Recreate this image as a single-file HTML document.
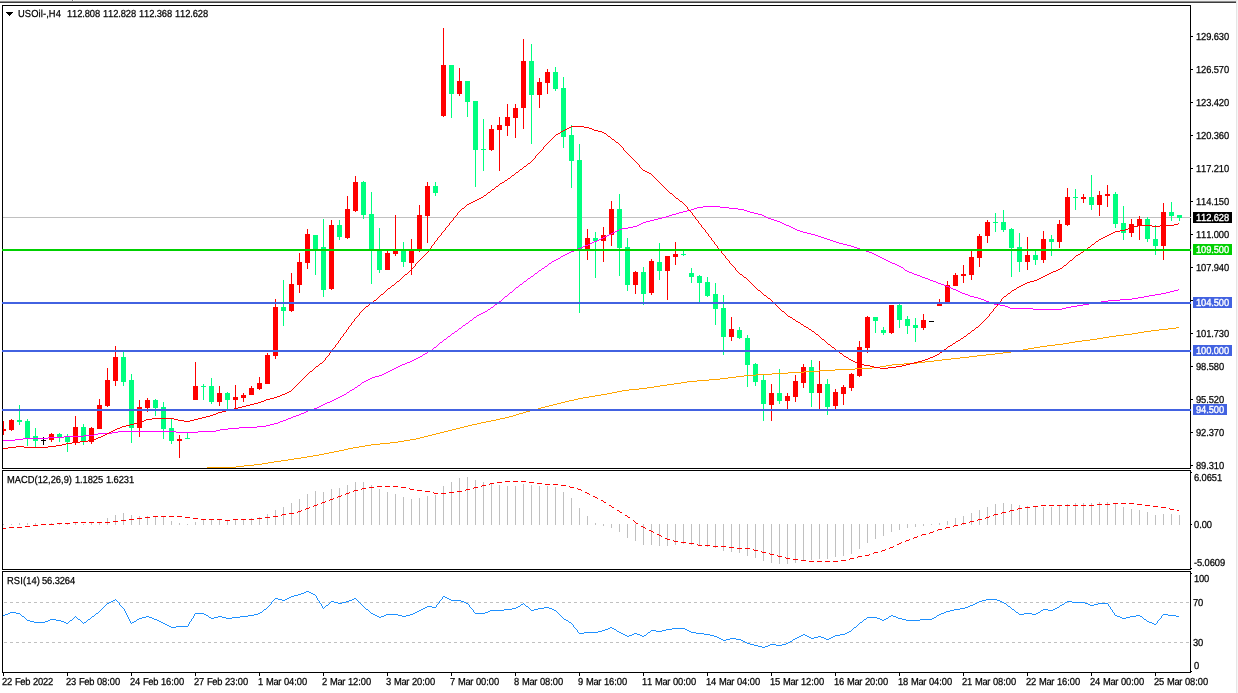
<!DOCTYPE html>
<html><head><meta charset="utf-8"><title>USOil H4</title>
<style>
html,body{margin:0;padding:0;background:#fff;}
body{width:1238px;height:693px;position:relative;overflow:hidden;font-family:"Liberation Sans",sans-serif;}
svg{position:absolute;left:0;top:0;}
#labels{position:absolute;left:0;top:0;width:1238px;height:693px;will-change:transform;transform:translateZ(0);}
.l{position:absolute;left:0;top:0;width:0;height:0;font-size:1px;line-height:1px;}
.t{position:absolute;display:block;font-size:10.17px;line-height:12px;height:12px;white-space:nowrap;font-kerning:none;font-variant-ligatures:none;text-rendering:geometricPrecision;color:#000;transform:scaleX(0.92);transform-origin:0 0;-webkit-text-stroke:0.25px currentColor;}
</style></head><body>
<svg width="1238" height="693" viewBox="0 0 1238 693" shape-rendering="crispEdges">
<rect x="0" y="0" width="1238" height="1" fill="#efefef"/>
<rect x="0" y="1" width="1236" height="1" fill="#8e8e8e"/>
<rect x="0" y="2" width="1236" height="1" fill="#3c3c3c"/>
<rect x="1236" y="0" width="1" height="693" fill="#e6e6e6"/>
<rect x="1237" y="0" width="1" height="693" fill="#f6f6f6"/>
<rect x="72" y="0" width="1" height="1" fill="#7c7c7c"/>
<rect x="73" y="0" width="1" height="1" fill="#ffffff"/>
<rect x="3" y="217" width="1187" height="1" fill="#c0c0c0"/>
<path d="M4 602.5H1190" stroke="#c0c0c0" stroke-width="1" stroke-dasharray="3 3" fill="none"/>
<path d="M4 642.5H1190" stroke="#c0c0c0" stroke-width="1" stroke-dasharray="3 3" fill="none"/>
<rect x="107" y="518" width="1" height="7" fill="#c0c0c0"/>
<rect x="115" y="515" width="1" height="10" fill="#c0c0c0"/>
<rect x="123" y="513" width="1" height="12" fill="#c0c0c0"/>
<rect x="131" y="515" width="1" height="10" fill="#c0c0c0"/>
<rect x="139" y="516" width="1" height="9" fill="#c0c0c0"/>
<rect x="147" y="516" width="1" height="9" fill="#c0c0c0"/>
<rect x="155" y="516" width="1" height="9" fill="#c0c0c0"/>
<rect x="163" y="517" width="1" height="8" fill="#c0c0c0"/>
<rect x="171" y="521" width="1" height="4" fill="#c0c0c0"/>
<rect x="179" y="523" width="1" height="2" fill="#c0c0c0"/>
<rect x="187" y="524" width="1" height="1" fill="#c0c0c0"/>
<rect x="195" y="522" width="1" height="3" fill="#c0c0c0"/>
<rect x="203" y="520" width="1" height="5" fill="#c0c0c0"/>
<rect x="211" y="519" width="1" height="6" fill="#c0c0c0"/>
<rect x="219" y="520" width="1" height="5" fill="#c0c0c0"/>
<rect x="227" y="520" width="1" height="5" fill="#c0c0c0"/>
<rect x="235" y="520" width="1" height="5" fill="#c0c0c0"/>
<rect x="243" y="519" width="1" height="6" fill="#c0c0c0"/>
<rect x="251" y="518" width="1" height="7" fill="#c0c0c0"/>
<rect x="259" y="517" width="1" height="8" fill="#c0c0c0"/>
<rect x="267" y="514" width="1" height="11" fill="#c0c0c0"/>
<rect x="275" y="510" width="1" height="15" fill="#c0c0c0"/>
<rect x="283" y="507" width="1" height="18" fill="#c0c0c0"/>
<rect x="291" y="503" width="1" height="22" fill="#c0c0c0"/>
<rect x="299" y="499" width="1" height="26" fill="#c0c0c0"/>
<rect x="307" y="494" width="1" height="31" fill="#c0c0c0"/>
<rect x="315" y="491" width="1" height="34" fill="#c0c0c0"/>
<rect x="323" y="492" width="1" height="33" fill="#c0c0c0"/>
<rect x="331" y="489" width="1" height="36" fill="#c0c0c0"/>
<rect x="339" y="488" width="1" height="37" fill="#c0c0c0"/>
<rect x="347" y="485" width="1" height="40" fill="#c0c0c0"/>
<rect x="355" y="482" width="1" height="43" fill="#c0c0c0"/>
<rect x="363" y="482" width="1" height="43" fill="#c0c0c0"/>
<rect x="371" y="485" width="1" height="40" fill="#c0c0c0"/>
<rect x="379" y="489" width="1" height="36" fill="#c0c0c0"/>
<rect x="387" y="492" width="1" height="33" fill="#c0c0c0"/>
<rect x="395" y="494" width="1" height="31" fill="#c0c0c0"/>
<rect x="403" y="497" width="1" height="28" fill="#c0c0c0"/>
<rect x="411" y="499" width="1" height="26" fill="#c0c0c0"/>
<rect x="419" y="498" width="1" height="27" fill="#c0c0c0"/>
<rect x="427" y="496" width="1" height="29" fill="#c0c0c0"/>
<rect x="435" y="495" width="1" height="30" fill="#c0c0c0"/>
<rect x="443" y="486" width="1" height="39" fill="#c0c0c0"/>
<rect x="451" y="482" width="1" height="43" fill="#c0c0c0"/>
<rect x="459" y="478" width="1" height="47" fill="#c0c0c0"/>
<rect x="467" y="477" width="1" height="48" fill="#c0c0c0"/>
<rect x="475" y="480" width="1" height="45" fill="#c0c0c0"/>
<rect x="483" y="482" width="1" height="43" fill="#c0c0c0"/>
<rect x="491" y="484" width="1" height="41" fill="#c0c0c0"/>
<rect x="499" y="485" width="1" height="40" fill="#c0c0c0"/>
<rect x="507" y="486" width="1" height="39" fill="#c0c0c0"/>
<rect x="515" y="486" width="1" height="39" fill="#c0c0c0"/>
<rect x="523" y="484" width="1" height="41" fill="#c0c0c0"/>
<rect x="531" y="485" width="1" height="40" fill="#c0c0c0"/>
<rect x="539" y="486" width="1" height="39" fill="#c0c0c0"/>
<rect x="547" y="486" width="1" height="39" fill="#c0c0c0"/>
<rect x="555" y="487" width="1" height="38" fill="#c0c0c0"/>
<rect x="563" y="492" width="1" height="33" fill="#c0c0c0"/>
<rect x="571" y="498" width="1" height="27" fill="#c0c0c0"/>
<rect x="579" y="508" width="1" height="17" fill="#c0c0c0"/>
<rect x="587" y="516" width="1" height="9" fill="#c0c0c0"/>
<rect x="595" y="523" width="1" height="2" fill="#c0c0c0"/>
<rect x="603" y="524" width="1" height="2" fill="#c0c0c0"/>
<rect x="611" y="524" width="1" height="4" fill="#c0c0c0"/>
<rect x="619" y="524" width="1" height="8" fill="#c0c0c0"/>
<rect x="627" y="524" width="1" height="14" fill="#c0c0c0"/>
<rect x="635" y="524" width="1" height="17" fill="#c0c0c0"/>
<rect x="643" y="524" width="1" height="21" fill="#c0c0c0"/>
<rect x="651" y="524" width="1" height="21" fill="#c0c0c0"/>
<rect x="659" y="524" width="1" height="22" fill="#c0c0c0"/>
<rect x="667" y="524" width="1" height="22" fill="#c0c0c0"/>
<rect x="675" y="524" width="1" height="21" fill="#c0c0c0"/>
<rect x="683" y="524" width="1" height="20" fill="#c0c0c0"/>
<rect x="691" y="524" width="1" height="21" fill="#c0c0c0"/>
<rect x="699" y="524" width="1" height="22" fill="#c0c0c0"/>
<rect x="707" y="524" width="1" height="23" fill="#c0c0c0"/>
<rect x="715" y="524" width="1" height="24" fill="#c0c0c0"/>
<rect x="723" y="524" width="1" height="27" fill="#c0c0c0"/>
<rect x="731" y="524" width="1" height="28" fill="#c0c0c0"/>
<rect x="739" y="524" width="1" height="29" fill="#c0c0c0"/>
<rect x="747" y="524" width="1" height="32" fill="#c0c0c0"/>
<rect x="755" y="524" width="1" height="34" fill="#c0c0c0"/>
<rect x="763" y="524" width="1" height="37" fill="#c0c0c0"/>
<rect x="771" y="524" width="1" height="39" fill="#c0c0c0"/>
<rect x="779" y="524" width="1" height="40" fill="#c0c0c0"/>
<rect x="787" y="524" width="1" height="40" fill="#c0c0c0"/>
<rect x="795" y="524" width="1" height="39" fill="#c0c0c0"/>
<rect x="803" y="524" width="1" height="37" fill="#c0c0c0"/>
<rect x="811" y="524" width="1" height="36" fill="#c0c0c0"/>
<rect x="819" y="524" width="1" height="35" fill="#c0c0c0"/>
<rect x="827" y="524" width="1" height="35" fill="#c0c0c0"/>
<rect x="835" y="524" width="1" height="33" fill="#c0c0c0"/>
<rect x="843" y="524" width="1" height="32" fill="#c0c0c0"/>
<rect x="851" y="524" width="1" height="30" fill="#c0c0c0"/>
<rect x="859" y="524" width="1" height="25" fill="#c0c0c0"/>
<rect x="867" y="524" width="1" height="19" fill="#c0c0c0"/>
<rect x="875" y="524" width="1" height="15" fill="#c0c0c0"/>
<rect x="883" y="524" width="1" height="12" fill="#c0c0c0"/>
<rect x="891" y="524" width="1" height="8" fill="#c0c0c0"/>
<rect x="899" y="524" width="1" height="6" fill="#c0c0c0"/>
<rect x="907" y="524" width="1" height="4" fill="#c0c0c0"/>
<rect x="915" y="524" width="1" height="3" fill="#c0c0c0"/>
<rect x="923" y="524" width="1" height="2" fill="#c0c0c0"/>
<rect x="931" y="524" width="1" height="1" fill="#c0c0c0"/>
<rect x="939" y="523" width="1" height="2" fill="#c0c0c0"/>
<rect x="947" y="521" width="1" height="4" fill="#c0c0c0"/>
<rect x="955" y="518" width="1" height="7" fill="#c0c0c0"/>
<rect x="963" y="516" width="1" height="9" fill="#c0c0c0"/>
<rect x="971" y="513" width="1" height="12" fill="#c0c0c0"/>
<rect x="979" y="510" width="1" height="15" fill="#c0c0c0"/>
<rect x="987" y="507" width="1" height="18" fill="#c0c0c0"/>
<rect x="995" y="504" width="1" height="21" fill="#c0c0c0"/>
<rect x="1003" y="503" width="1" height="22" fill="#c0c0c0"/>
<rect x="1011" y="504" width="1" height="21" fill="#c0c0c0"/>
<rect x="1019" y="505" width="1" height="20" fill="#c0c0c0"/>
<rect x="1027" y="506" width="1" height="19" fill="#c0c0c0"/>
<rect x="1035" y="507" width="1" height="18" fill="#c0c0c0"/>
<rect x="1043" y="507" width="1" height="18" fill="#c0c0c0"/>
<rect x="1051" y="507" width="1" height="18" fill="#c0c0c0"/>
<rect x="1059" y="506" width="1" height="19" fill="#c0c0c0"/>
<rect x="1067" y="504" width="1" height="21" fill="#c0c0c0"/>
<rect x="1075" y="503" width="1" height="22" fill="#c0c0c0"/>
<rect x="1083" y="503" width="1" height="22" fill="#c0c0c0"/>
<rect x="1091" y="503" width="1" height="22" fill="#c0c0c0"/>
<rect x="1099" y="502" width="1" height="23" fill="#c0c0c0"/>
<rect x="1107" y="502" width="1" height="23" fill="#c0c0c0"/>
<rect x="1115" y="504" width="1" height="21" fill="#c0c0c0"/>
<rect x="1123" y="507" width="1" height="18" fill="#c0c0c0"/>
<rect x="1131" y="509" width="1" height="16" fill="#c0c0c0"/>
<rect x="1139" y="510" width="1" height="15" fill="#c0c0c0"/>
<rect x="1147" y="512" width="1" height="13" fill="#c0c0c0"/>
<rect x="1155" y="515" width="1" height="10" fill="#c0c0c0"/>
<rect x="1163" y="514" width="1" height="11" fill="#c0c0c0"/>
<rect x="1171" y="514" width="1" height="11" fill="#c0c0c0"/>
<rect x="1179" y="515" width="1" height="10" fill="#c0c0c0"/>
<rect x="3" y="524" width="1" height="1" fill="#c0c0c0"/>
<rect x="11" y="524" width="1" height="1" fill="#c0c0c0"/>
<rect x="19" y="523" width="1" height="2" fill="#c0c0c0"/>
<rect x="27" y="523" width="1" height="2" fill="#c0c0c0"/>
<rect x="35" y="523" width="1" height="2" fill="#c0c0c0"/>
<rect x="43" y="524" width="1" height="1" fill="#c0c0c0"/>
<rect x="51" y="523" width="1" height="2" fill="#c0c0c0"/>
<rect x="59" y="524" width="1" height="1" fill="#c0c0c0"/>
<rect x="67" y="524" width="1" height="1" fill="#c0c0c0"/>
<rect x="75" y="523" width="1" height="2" fill="#c0c0c0"/>
<rect x="83" y="524" width="1" height="1" fill="#c0c0c0"/>
<rect x="91" y="523" width="1" height="2" fill="#c0c0c0"/>
<rect x="99" y="523" width="1" height="2" fill="#c0c0c0"/>
<rect x="3" y="421" width="1" height="14" fill="#ff0000"/>
<rect x="3" y="429" width="3" height="2" fill="#ff0000"/>
<rect x="11" y="419" width="1" height="12" fill="#ff0000"/>
<rect x="9" y="420" width="5" height="10" fill="#ff0000"/>
<rect x="19" y="405" width="1" height="20" fill="#00ff7f"/>
<rect x="17" y="420" width="5" height="2" fill="#00ff7f"/>
<rect x="27" y="419" width="1" height="27" fill="#00ff7f"/>
<rect x="25" y="421" width="5" height="17" fill="#00ff7f"/>
<rect x="35" y="428" width="1" height="19" fill="#00ff7f"/>
<rect x="33" y="436" width="5" height="5" fill="#00ff7f"/>
<rect x="43" y="437" width="1" height="8" fill="#000000"/>
<rect x="41" y="440" width="5" height="1" fill="#000000"/>
<rect x="51" y="433" width="1" height="9" fill="#ff0000"/>
<rect x="49" y="434" width="5" height="6" fill="#ff0000"/>
<rect x="59" y="433" width="1" height="9" fill="#00ff7f"/>
<rect x="57" y="434" width="5" height="3" fill="#00ff7f"/>
<rect x="67" y="434" width="1" height="18" fill="#00ff7f"/>
<rect x="65" y="437" width="5" height="5" fill="#00ff7f"/>
<rect x="75" y="416" width="1" height="29" fill="#ff0000"/>
<rect x="73" y="427" width="5" height="16" fill="#ff0000"/>
<rect x="83" y="424" width="1" height="21" fill="#00ff7f"/>
<rect x="81" y="427" width="5" height="14" fill="#00ff7f"/>
<rect x="91" y="427" width="1" height="17" fill="#ff0000"/>
<rect x="89" y="428" width="5" height="14" fill="#ff0000"/>
<rect x="99" y="399" width="1" height="30" fill="#ff0000"/>
<rect x="97" y="405" width="5" height="24" fill="#ff0000"/>
<rect x="107" y="368" width="1" height="39" fill="#ff0000"/>
<rect x="105" y="380" width="5" height="26" fill="#ff0000"/>
<rect x="115" y="346" width="1" height="40" fill="#ff0000"/>
<rect x="113" y="357" width="5" height="24" fill="#ff0000"/>
<rect x="123" y="352" width="1" height="34" fill="#00ff7f"/>
<rect x="121" y="357" width="5" height="25" fill="#00ff7f"/>
<rect x="131" y="374" width="1" height="69" fill="#00ff7f"/>
<rect x="129" y="380" width="5" height="48" fill="#00ff7f"/>
<rect x="139" y="400" width="1" height="37" fill="#ff0000"/>
<rect x="137" y="407" width="5" height="21" fill="#ff0000"/>
<rect x="147" y="398" width="1" height="14" fill="#ff0000"/>
<rect x="145" y="400" width="5" height="8" fill="#ff0000"/>
<rect x="155" y="399" width="1" height="17" fill="#00ff7f"/>
<rect x="153" y="400" width="5" height="8" fill="#00ff7f"/>
<rect x="163" y="402" width="1" height="37" fill="#00ff7f"/>
<rect x="161" y="407" width="5" height="22" fill="#00ff7f"/>
<rect x="171" y="418" width="1" height="26" fill="#00ff7f"/>
<rect x="169" y="428" width="5" height="13" fill="#00ff7f"/>
<rect x="179" y="435" width="1" height="23" fill="#ff0000"/>
<rect x="177" y="439" width="5" height="2" fill="#ff0000"/>
<rect x="187" y="433" width="1" height="6" fill="#00ff7f"/>
<rect x="185" y="438" width="5" height="1" fill="#00ff7f"/>
<rect x="195" y="362" width="1" height="38" fill="#ff0000"/>
<rect x="193" y="386" width="5" height="14" fill="#ff0000"/>
<rect x="203" y="384" width="1" height="16" fill="#00ff7f"/>
<rect x="201" y="386" width="5" height="1" fill="#00ff7f"/>
<rect x="211" y="378" width="1" height="26" fill="#00ff7f"/>
<rect x="209" y="386" width="5" height="16" fill="#00ff7f"/>
<rect x="219" y="386" width="1" height="20" fill="#ff0000"/>
<rect x="217" y="393" width="5" height="9" fill="#ff0000"/>
<rect x="227" y="392" width="1" height="17" fill="#00ff7f"/>
<rect x="225" y="393" width="5" height="7" fill="#00ff7f"/>
<rect x="235" y="385" width="1" height="24" fill="#ff0000"/>
<rect x="233" y="397" width="5" height="3" fill="#ff0000"/>
<rect x="243" y="393" width="1" height="9" fill="#ff0000"/>
<rect x="241" y="395" width="5" height="3" fill="#ff0000"/>
<rect x="251" y="386" width="1" height="9" fill="#ff0000"/>
<rect x="249" y="388" width="5" height="7" fill="#ff0000"/>
<rect x="259" y="377" width="1" height="13" fill="#ff0000"/>
<rect x="257" y="383" width="5" height="6" fill="#ff0000"/>
<rect x="267" y="353" width="1" height="31" fill="#ff0000"/>
<rect x="265" y="355" width="5" height="29" fill="#ff0000"/>
<rect x="275" y="299" width="1" height="60" fill="#ff0000"/>
<rect x="273" y="307" width="5" height="49" fill="#ff0000"/>
<rect x="283" y="280" width="1" height="46" fill="#00ff7f"/>
<rect x="281" y="307" width="5" height="4" fill="#00ff7f"/>
<rect x="291" y="273" width="1" height="39" fill="#ff0000"/>
<rect x="289" y="284" width="5" height="27" fill="#ff0000"/>
<rect x="299" y="253" width="1" height="40" fill="#ff0000"/>
<rect x="297" y="262" width="5" height="23" fill="#ff0000"/>
<rect x="307" y="229" width="1" height="40" fill="#ff0000"/>
<rect x="305" y="234" width="5" height="29" fill="#ff0000"/>
<rect x="315" y="235" width="1" height="40" fill="#00ff7f"/>
<rect x="313" y="235" width="5" height="16" fill="#00ff7f"/>
<rect x="323" y="219" width="1" height="78" fill="#00ff7f"/>
<rect x="321" y="247" width="5" height="43" fill="#00ff7f"/>
<rect x="331" y="220" width="1" height="70" fill="#ff0000"/>
<rect x="329" y="225" width="5" height="64" fill="#ff0000"/>
<rect x="339" y="220" width="1" height="20" fill="#00ff7f"/>
<rect x="337" y="225" width="5" height="12" fill="#00ff7f"/>
<rect x="347" y="196" width="1" height="43" fill="#ff0000"/>
<rect x="345" y="209" width="5" height="29" fill="#ff0000"/>
<rect x="355" y="176" width="1" height="36" fill="#ff0000"/>
<rect x="353" y="182" width="5" height="29" fill="#ff0000"/>
<rect x="363" y="181" width="1" height="38" fill="#00ff7f"/>
<rect x="361" y="182" width="5" height="33" fill="#00ff7f"/>
<rect x="371" y="192" width="1" height="92" fill="#00ff7f"/>
<rect x="369" y="214" width="5" height="36" fill="#00ff7f"/>
<rect x="379" y="228" width="1" height="45" fill="#00ff7f"/>
<rect x="377" y="251" width="5" height="19" fill="#00ff7f"/>
<rect x="387" y="251" width="1" height="19" fill="#ff0000"/>
<rect x="385" y="253" width="5" height="17" fill="#ff0000"/>
<rect x="395" y="215" width="1" height="41" fill="#ff0000"/>
<rect x="393" y="251" width="5" height="3" fill="#ff0000"/>
<rect x="403" y="242" width="1" height="25" fill="#00ff7f"/>
<rect x="401" y="251" width="5" height="11" fill="#00ff7f"/>
<rect x="411" y="239" width="1" height="36" fill="#ff0000"/>
<rect x="409" y="251" width="5" height="12" fill="#ff0000"/>
<rect x="419" y="205" width="1" height="47" fill="#ff0000"/>
<rect x="417" y="215" width="5" height="36" fill="#ff0000"/>
<rect x="427" y="182" width="1" height="61" fill="#ff0000"/>
<rect x="425" y="186" width="5" height="30" fill="#ff0000"/>
<rect x="435" y="182" width="1" height="14" fill="#00ff7f"/>
<rect x="433" y="186" width="5" height="7" fill="#00ff7f"/>
<rect x="443" y="28" width="1" height="89" fill="#ff0000"/>
<rect x="441" y="65" width="5" height="51" fill="#ff0000"/>
<rect x="451" y="65" width="1" height="53" fill="#00ff7f"/>
<rect x="449" y="65" width="5" height="29" fill="#00ff7f"/>
<rect x="459" y="68" width="1" height="28" fill="#ff0000"/>
<rect x="457" y="81" width="5" height="13" fill="#ff0000"/>
<rect x="467" y="81" width="1" height="36" fill="#00ff7f"/>
<rect x="465" y="81" width="5" height="21" fill="#00ff7f"/>
<rect x="475" y="101" width="1" height="86" fill="#00ff7f"/>
<rect x="473" y="101" width="5" height="49" fill="#00ff7f"/>
<rect x="483" y="119" width="1" height="52" fill="#00ff7f"/>
<rect x="481" y="149" width="5" height="1" fill="#00ff7f"/>
<rect x="491" y="125" width="1" height="26" fill="#ff0000"/>
<rect x="489" y="129" width="5" height="21" fill="#ff0000"/>
<rect x="499" y="117" width="1" height="54" fill="#ff0000"/>
<rect x="497" y="125" width="5" height="5" fill="#ff0000"/>
<rect x="507" y="104" width="1" height="32" fill="#ff0000"/>
<rect x="505" y="117" width="5" height="9" fill="#ff0000"/>
<rect x="515" y="104" width="1" height="34" fill="#ff0000"/>
<rect x="513" y="108" width="5" height="10" fill="#ff0000"/>
<rect x="523" y="39" width="1" height="90" fill="#ff0000"/>
<rect x="521" y="61" width="5" height="47" fill="#ff0000"/>
<rect x="531" y="44" width="1" height="100" fill="#00ff7f"/>
<rect x="529" y="61" width="5" height="34" fill="#00ff7f"/>
<rect x="539" y="78" width="1" height="30" fill="#ff0000"/>
<rect x="537" y="82" width="5" height="13" fill="#ff0000"/>
<rect x="547" y="69" width="1" height="25" fill="#ff0000"/>
<rect x="545" y="72" width="5" height="11" fill="#ff0000"/>
<rect x="555" y="67" width="1" height="24" fill="#00ff7f"/>
<rect x="553" y="72" width="5" height="17" fill="#00ff7f"/>
<rect x="563" y="77" width="1" height="71" fill="#00ff7f"/>
<rect x="561" y="88" width="5" height="49" fill="#00ff7f"/>
<rect x="571" y="125" width="1" height="63" fill="#00ff7f"/>
<rect x="569" y="135" width="5" height="26" fill="#00ff7f"/>
<rect x="579" y="144" width="1" height="169" fill="#00ff7f"/>
<rect x="577" y="160" width="5" height="90" fill="#00ff7f"/>
<rect x="587" y="229" width="1" height="31" fill="#ff0000"/>
<rect x="585" y="238" width="5" height="12" fill="#ff0000"/>
<rect x="595" y="232" width="1" height="46" fill="#00ff7f"/>
<rect x="593" y="238" width="5" height="3" fill="#00ff7f"/>
<rect x="603" y="227" width="1" height="35" fill="#ff0000"/>
<rect x="601" y="235" width="5" height="6" fill="#ff0000"/>
<rect x="611" y="201" width="1" height="45" fill="#ff0000"/>
<rect x="609" y="209" width="5" height="26" fill="#ff0000"/>
<rect x="619" y="194" width="1" height="82" fill="#00ff7f"/>
<rect x="617" y="209" width="5" height="39" fill="#00ff7f"/>
<rect x="627" y="238" width="1" height="53" fill="#00ff7f"/>
<rect x="625" y="247" width="5" height="38" fill="#00ff7f"/>
<rect x="635" y="271" width="1" height="23" fill="#ff0000"/>
<rect x="633" y="272" width="5" height="13" fill="#ff0000"/>
<rect x="643" y="267" width="1" height="38" fill="#00ff7f"/>
<rect x="641" y="272" width="5" height="22" fill="#00ff7f"/>
<rect x="651" y="259" width="1" height="36" fill="#ff0000"/>
<rect x="649" y="261" width="5" height="32" fill="#ff0000"/>
<rect x="659" y="243" width="1" height="37" fill="#00ff7f"/>
<rect x="657" y="262" width="5" height="9" fill="#00ff7f"/>
<rect x="667" y="256" width="1" height="44" fill="#ff0000"/>
<rect x="665" y="256" width="5" height="15" fill="#ff0000"/>
<rect x="675" y="242" width="1" height="23" fill="#ff0000"/>
<rect x="673" y="254" width="5" height="3" fill="#ff0000"/>
<rect x="683" y="251" width="1" height="5" fill="#00ff7f"/>
<rect x="681" y="254" width="5" height="1" fill="#00ff7f"/>
<rect x="691" y="268" width="1" height="15" fill="#00ff7f"/>
<rect x="689" y="273" width="5" height="4" fill="#00ff7f"/>
<rect x="699" y="275" width="1" height="27" fill="#00ff7f"/>
<rect x="697" y="276" width="5" height="7" fill="#00ff7f"/>
<rect x="707" y="277" width="1" height="20" fill="#00ff7f"/>
<rect x="705" y="282" width="5" height="14" fill="#00ff7f"/>
<rect x="715" y="283" width="1" height="42" fill="#00ff7f"/>
<rect x="713" y="294" width="5" height="15" fill="#00ff7f"/>
<rect x="723" y="295" width="1" height="60" fill="#00ff7f"/>
<rect x="721" y="308" width="5" height="29" fill="#00ff7f"/>
<rect x="731" y="317" width="1" height="24" fill="#ff0000"/>
<rect x="729" y="329" width="5" height="8" fill="#ff0000"/>
<rect x="739" y="327" width="1" height="12" fill="#00ff7f"/>
<rect x="737" y="330" width="5" height="8" fill="#00ff7f"/>
<rect x="747" y="335" width="1" height="52" fill="#00ff7f"/>
<rect x="745" y="338" width="5" height="27" fill="#00ff7f"/>
<rect x="755" y="363" width="1" height="23" fill="#00ff7f"/>
<rect x="753" y="364" width="5" height="18" fill="#00ff7f"/>
<rect x="763" y="375" width="1" height="46" fill="#00ff7f"/>
<rect x="761" y="380" width="5" height="24" fill="#00ff7f"/>
<rect x="771" y="384" width="1" height="37" fill="#ff0000"/>
<rect x="769" y="393" width="5" height="12" fill="#ff0000"/>
<rect x="779" y="369" width="1" height="35" fill="#00ff7f"/>
<rect x="777" y="393" width="5" height="8" fill="#00ff7f"/>
<rect x="787" y="393" width="1" height="16" fill="#ff0000"/>
<rect x="785" y="396" width="5" height="5" fill="#ff0000"/>
<rect x="795" y="375" width="1" height="27" fill="#ff0000"/>
<rect x="793" y="381" width="5" height="16" fill="#ff0000"/>
<rect x="803" y="364" width="1" height="24" fill="#ff0000"/>
<rect x="801" y="367" width="5" height="16" fill="#ff0000"/>
<rect x="811" y="360" width="1" height="47" fill="#00ff7f"/>
<rect x="809" y="367" width="5" height="26" fill="#00ff7f"/>
<rect x="819" y="361" width="1" height="48" fill="#ff0000"/>
<rect x="817" y="384" width="5" height="9" fill="#ff0000"/>
<rect x="827" y="379" width="1" height="36" fill="#00ff7f"/>
<rect x="825" y="384" width="5" height="23" fill="#00ff7f"/>
<rect x="835" y="389" width="1" height="20" fill="#ff0000"/>
<rect x="833" y="392" width="5" height="14" fill="#ff0000"/>
<rect x="843" y="385" width="1" height="20" fill="#ff0000"/>
<rect x="841" y="387" width="5" height="7" fill="#ff0000"/>
<rect x="851" y="373" width="1" height="18" fill="#ff0000"/>
<rect x="849" y="374" width="5" height="14" fill="#ff0000"/>
<rect x="859" y="341" width="1" height="36" fill="#ff0000"/>
<rect x="857" y="347" width="5" height="29" fill="#ff0000"/>
<rect x="867" y="316" width="1" height="37" fill="#ff0000"/>
<rect x="865" y="317" width="5" height="31" fill="#ff0000"/>
<rect x="875" y="317" width="1" height="16" fill="#00ff7f"/>
<rect x="873" y="317" width="5" height="4" fill="#00ff7f"/>
<rect x="883" y="327" width="1" height="8" fill="#00ff7f"/>
<rect x="881" y="330" width="5" height="3" fill="#00ff7f"/>
<rect x="891" y="305" width="1" height="29" fill="#ff0000"/>
<rect x="889" y="305" width="5" height="28" fill="#ff0000"/>
<rect x="899" y="304" width="1" height="24" fill="#00ff7f"/>
<rect x="897" y="305" width="5" height="15" fill="#00ff7f"/>
<rect x="907" y="316" width="1" height="18" fill="#00ff7f"/>
<rect x="905" y="319" width="5" height="7" fill="#00ff7f"/>
<rect x="915" y="318" width="1" height="24" fill="#00ff7f"/>
<rect x="913" y="325" width="5" height="3" fill="#00ff7f"/>
<rect x="923" y="314" width="1" height="16" fill="#ff0000"/>
<rect x="921" y="320" width="5" height="8" fill="#ff0000"/>
<rect x="929" y="321" width="5" height="1" fill="#000000"/>
<rect x="939" y="299" width="1" height="7" fill="#ff0000"/>
<rect x="937" y="304" width="5" height="2" fill="#ff0000"/>
<rect x="947" y="281" width="1" height="22" fill="#ff0000"/>
<rect x="945" y="285" width="5" height="17" fill="#ff0000"/>
<rect x="955" y="273" width="1" height="13" fill="#ff0000"/>
<rect x="953" y="275" width="5" height="11" fill="#ff0000"/>
<rect x="963" y="265" width="1" height="18" fill="#ff0000"/>
<rect x="961" y="274" width="5" height="2" fill="#ff0000"/>
<rect x="971" y="251" width="1" height="29" fill="#ff0000"/>
<rect x="969" y="257" width="5" height="18" fill="#ff0000"/>
<rect x="979" y="234" width="1" height="33" fill="#ff0000"/>
<rect x="977" y="236" width="5" height="22" fill="#ff0000"/>
<rect x="987" y="220" width="1" height="23" fill="#ff0000"/>
<rect x="985" y="222" width="5" height="14" fill="#ff0000"/>
<rect x="995" y="213" width="1" height="19" fill="#00ff7f"/>
<rect x="993" y="222" width="5" height="1" fill="#00ff7f"/>
<rect x="1003" y="210" width="1" height="22" fill="#00ff7f"/>
<rect x="1001" y="222" width="5" height="8" fill="#00ff7f"/>
<rect x="1011" y="228" width="1" height="49" fill="#00ff7f"/>
<rect x="1009" y="229" width="5" height="19" fill="#00ff7f"/>
<rect x="1019" y="233" width="1" height="39" fill="#00ff7f"/>
<rect x="1017" y="247" width="5" height="15" fill="#00ff7f"/>
<rect x="1027" y="237" width="1" height="33" fill="#ff0000"/>
<rect x="1025" y="255" width="5" height="7" fill="#ff0000"/>
<rect x="1035" y="251" width="1" height="14" fill="#00ff7f"/>
<rect x="1033" y="255" width="5" height="5" fill="#00ff7f"/>
<rect x="1043" y="231" width="1" height="32" fill="#ff0000"/>
<rect x="1041" y="239" width="5" height="21" fill="#ff0000"/>
<rect x="1051" y="235" width="1" height="21" fill="#00ff7f"/>
<rect x="1049" y="239" width="5" height="3" fill="#00ff7f"/>
<rect x="1059" y="220" width="1" height="28" fill="#ff0000"/>
<rect x="1057" y="224" width="5" height="18" fill="#ff0000"/>
<rect x="1067" y="188" width="1" height="38" fill="#ff0000"/>
<rect x="1065" y="197" width="5" height="28" fill="#ff0000"/>
<rect x="1075" y="189" width="1" height="21" fill="#00ff7f"/>
<rect x="1073" y="197" width="5" height="1" fill="#00ff7f"/>
<rect x="1083" y="194" width="1" height="9" fill="#ff0000"/>
<rect x="1081" y="197" width="5" height="2" fill="#ff0000"/>
<rect x="1091" y="175" width="1" height="35" fill="#00ff7f"/>
<rect x="1089" y="197" width="5" height="8" fill="#00ff7f"/>
<rect x="1099" y="191" width="1" height="25" fill="#ff0000"/>
<rect x="1097" y="195" width="5" height="10" fill="#ff0000"/>
<rect x="1107" y="185" width="1" height="22" fill="#ff0000"/>
<rect x="1105" y="194" width="5" height="2" fill="#ff0000"/>
<rect x="1115" y="192" width="1" height="36" fill="#00ff7f"/>
<rect x="1113" y="194" width="5" height="30" fill="#00ff7f"/>
<rect x="1123" y="206" width="1" height="34" fill="#00ff7f"/>
<rect x="1121" y="223" width="5" height="10" fill="#00ff7f"/>
<rect x="1131" y="219" width="1" height="18" fill="#ff0000"/>
<rect x="1129" y="224" width="5" height="9" fill="#ff0000"/>
<rect x="1139" y="216" width="1" height="24" fill="#ff0000"/>
<rect x="1137" y="219" width="5" height="7" fill="#ff0000"/>
<rect x="1147" y="217" width="1" height="25" fill="#00ff7f"/>
<rect x="1145" y="219" width="5" height="20" fill="#00ff7f"/>
<rect x="1155" y="225" width="1" height="30" fill="#00ff7f"/>
<rect x="1153" y="239" width="5" height="7" fill="#00ff7f"/>
<rect x="1163" y="203" width="1" height="57" fill="#ff0000"/>
<rect x="1161" y="212" width="5" height="34" fill="#ff0000"/>
<rect x="1171" y="202" width="1" height="19" fill="#00ff7f"/>
<rect x="1169" y="212" width="5" height="4" fill="#00ff7f"/>
<rect x="1179" y="215" width="1" height="6" fill="#00ff7f"/>
<rect x="1177" y="215" width="5" height="3" fill="#00ff7f"/>
<path d="M1176 327h3v1h-3zM1168 328h8v1h-8zM1159 329h9v1h-9zM1151 330h8v1h-8zM1144 331h7v1h-7zM1138 332h6v1h-6zM1132 333h6v1h-6zM1124 334h8v1h-8zM1116 335h8v1h-8zM1109 336h7v1h-7zM1103 337h6v1h-6zM1097 338h6v1h-6zM1090 339h7v1h-7zM1082 340h8v1h-8zM1075 341h7v1h-7zM1069 342h6v1h-6zM1063 343h6v1h-6zM1055 344h8v1h-8zM1047 345h8v1h-8zM1040 346h7v1h-7zM1034 347h6v1h-6zM1028 348h6v1h-6zM1023 349h5v1h-5zM1017 350h6v1h-6zM1011 351h6v1h-6zM1003 352h8v1h-8zM995 353h8v1h-8zM986 354h9v1h-9zM977 355h9v1h-9zM969 356h8v1h-8zM960 357h9v1h-9zM951 358h9v1h-9zM942 359h9v1h-9zM934 360h8v1h-8zM925 361h9v1h-9zM917 362h8v1h-8zM904 363h13v1h-13zM892 364h12v1h-12zM886 365h6v1h-6zM880 366h6v1h-6zM872 367h8v1h-8zM855 368h17v1h-17zM835 369h20v1h-20zM819 370h16v1h-16zM804 371h15v1h-15zM788 372h16v1h-16zM772 373h16v1h-16zM756 374h16v1h-16zM744 375h12v1h-12zM736 376h8v1h-8zM728 377h8v1h-8zM720 378h8v1h-8zM709 379h11v1h-11zM697 380h12v1h-12zM687 381h10v1h-10zM681 382h6v1h-6zM674 383h7v1h-7zM667 384h7v1h-7zM660 385h7v1h-7zM654 386h6v1h-6zM647 387h7v1h-7zM639 388h8v1h-8zM629 389h10v1h-10zM622 390h7v1h-7zM617 391h5v1h-5zM612 392h5v1h-5zM607 393h5v1h-5zM601 394h6v1h-6zM595 395h6v1h-6zM589 396h6v1h-6zM583 397h6v1h-6zM578 398h5v1h-5zM574 399h4v1h-4zM569 400h5v1h-5zM565 401h4v1h-4zM561 402h4v1h-4zM557 403h4v1h-4zM553 404h4v1h-4zM549 405h4v1h-4zM545 406h4v1h-4zM541 407h4v1h-4zM538 408h3v1h-3zM534 409h4v1h-4zM530 410h4v1h-4zM526 411h4v1h-4zM523 412h3v1h-3zM519 413h4v1h-4zM516 414h3v1h-3zM513 415h3v1h-3zM509 416h4v1h-4zM505 417h4v1h-4zM500 418h5v1h-5zM496 419h4v1h-4zM491 420h5v1h-5zM486 421h5v1h-5zM481 422h5v1h-5zM477 423h4v1h-4zM472 424h5v1h-5zM468 425h4v1h-4zM464 426h4v1h-4zM460 427h4v1h-4zM456 428h4v1h-4zM452 429h4v1h-4zM448 430h4v1h-4zM444 431h4v1h-4zM440 432h4v1h-4zM436 433h4v1h-4zM432 434h4v1h-4zM428 435h4v1h-4zM424 436h4v1h-4zM420 437h4v1h-4zM416 438h4v1h-4zM410 439h6v1h-6zM404 440h6v1h-6zM398 441h6v1h-6zM390 442h8v1h-8zM380 443h10v1h-10zM371 444h9v1h-9zM365 445h6v1h-6zM359 446h6v1h-6zM353 447h6v1h-6zM348 448h5v1h-5zM344 449h4v1h-4zM339 450h5v1h-5zM334 451h5v1h-5zM329 452h5v1h-5zM324 453h5v1h-5zM319 454h5v1h-5zM313 455h6v1h-6zM307 456h6v1h-6zM301 457h6v1h-6zM294 458h7v1h-7zM288 459h6v1h-6zM281 460h7v1h-7zM274 461h7v1h-7zM268 462h6v1h-6zM262 463h6v1h-6zM254 464h8v1h-8zM244 465h10v1h-10zM236 466h8v1h-8zM207 467h29v1h-29z" fill="#ffa500"/>
<path d="M703 206h17v1h-17zM697 207h6v1h-6zM720 207h9v1h-9zM694 208h3v1h-3zM729 208h9v1h-9zM691 209h3v1h-3zM738 209h6v1h-6zM687 210h4v1h-4zM744 210h3v1h-3zM683 211h4v1h-4zM747 211h3v1h-3zM679 212h4v1h-4zM750 212h4v1h-4zM676 213h3v1h-3zM754 213h4v1h-4zM672 214h4v1h-4zM758 214h4v1h-4zM669 215h3v1h-3zM762 215h2v1h-2zM666 216h3v1h-3zM764 216h2v1h-2zM662 217h4v1h-4zM766 217h2v1h-2zM658 218h4v1h-4zM768 218h3v1h-3zM654 219h4v1h-4zM771 219h3v1h-3zM650 220h4v1h-4zM774 220h3v1h-3zM646 221h4v1h-4zM777 221h3v1h-3zM643 222h3v1h-3zM780 222h2v1h-2zM641 223h2v1h-2zM782 223h2v1h-2zM639 224h2v1h-2zM784 224h2v1h-2zM637 225h2v1h-2zM786 225h3v1h-3zM633 226h4v1h-4zM789 226h2v1h-2zM628 227h5v1h-5zM791 227h2v1h-2zM622 228h6v1h-6zM793 228h2v1h-2zM619 229h3v1h-3zM795 229h2v1h-2zM617 230h2v1h-2zM797 230h3v1h-3zM615 231h2v1h-2zM800 231h3v1h-3zM613 232h2v1h-2zM803 232h4v1h-4zM611 233h2v1h-2zM807 233h4v1h-4zM609 234h2v1h-2zM811 234h4v1h-4zM607 235h2v1h-2zM815 235h3v1h-3zM605 236h2v1h-2zM818 236h3v1h-3zM603 237h2v1h-2zM821 237h3v1h-3zM601 238h2v1h-2zM824 238h3v1h-3zM599 239h2v1h-2zM827 239h3v1h-3zM597 240h2v1h-2zM830 240h3v1h-3zM594 241h3v1h-3zM833 241h3v1h-3zM592 242h2v1h-2zM836 242h3v1h-3zM590 243h2v1h-2zM839 243h4v1h-4zM588 244h2v1h-2zM843 244h4v1h-4zM585 245h3v1h-3zM847 245h4v1h-4zM583 246h2v1h-2zM851 246h3v1h-3zM581 247h2v1h-2zM854 247h3v1h-3zM578 248h3v1h-3zM857 248h3v1h-3zM576 249h2v1h-2zM860 249h3v1h-3zM574 250h2v1h-2zM863 250h3v1h-3zM571 251h3v1h-3zM866 251h3v1h-3zM569 252h2v1h-2zM869 252h3v1h-3zM567 253h2v1h-2zM872 253h2v1h-2zM565 254h2v1h-2zM874 254h2v1h-2zM563 255h2v1h-2zM876 255h2v1h-2zM561 256h2v1h-2zM878 256h2v1h-2zM560 257h1v1h-1zM880 257h2v1h-2zM558 258h2v1h-2zM882 258h2v1h-2zM556 259h2v1h-2zM884 259h2v1h-2zM554 260h2v1h-2zM886 260h2v1h-2zM552 261h2v1h-2zM888 261h2v1h-2zM551 262h1v1h-1zM890 262h2v1h-2zM549 263h2v1h-2zM892 263h3v1h-3zM548 264h1v1h-1zM895 264h2v1h-2zM547 265h1v1h-1zM897 265h2v1h-2zM545 266h2v1h-2zM899 266h2v1h-2zM544 267h1v1h-1zM901 267h2v1h-2zM542 268h2v1h-2zM903 268h1v1h-1zM541 269h1v1h-1zM904 269h1v1h-1zM539 270h2v1h-2zM905 270h2v1h-2zM538 271h1v1h-1zM907 271h2v1h-2zM537 272h1v1h-1zM909 272h3v1h-3zM535 273h2v1h-2zM912 273h2v1h-2zM534 274h1v1h-1zM914 274h3v1h-3zM533 275h1v1h-1zM917 275h3v1h-3zM531 276h2v1h-2zM920 276h2v1h-2zM530 277h1v1h-1zM922 277h3v1h-3zM528 278h2v1h-2zM925 278h3v1h-3zM527 279h1v1h-1zM928 279h2v1h-2zM526 280h1v1h-1zM930 280h3v1h-3zM524 281h2v1h-2zM933 281h3v1h-3zM523 282h1v1h-1zM936 282h2v1h-2zM522 283h1v1h-1zM938 283h3v1h-3zM520 284h2v1h-2zM941 284h3v1h-3zM519 285h1v1h-1zM944 285h2v1h-2zM518 286h1v1h-1zM946 286h3v1h-3zM516 287h2v1h-2zM949 287h2v1h-2zM515 288h1v1h-1zM951 288h2v1h-2zM514 289h1v1h-1zM953 289h3v1h-3zM1178 289h1v1h-1zM513 290h1v1h-1zM956 290h2v1h-2zM1174 290h4v1h-4zM512 291h1v1h-1zM958 291h2v1h-2zM1170 291h4v1h-4zM510 292h2v1h-2zM960 292h2v1h-2zM1166 292h4v1h-4zM509 293h1v1h-1zM962 293h3v1h-3zM1161 293h5v1h-5zM508 294h1v1h-1zM965 294h3v1h-3zM1155 294h6v1h-6zM507 295h1v1h-1zM968 295h2v1h-2zM1149 295h6v1h-6zM505 296h2v1h-2zM970 296h4v1h-4zM1144 296h5v1h-5zM504 297h1v1h-1zM974 297h4v1h-4zM1138 297h6v1h-6zM503 298h1v1h-1zM978 298h3v1h-3zM1132 298h6v1h-6zM502 299h1v1h-1zM981 299h3v1h-3zM1120 299h12v1h-12zM501 300h1v1h-1zM984 300h2v1h-2zM1108 300h12v1h-12zM499 301h2v1h-2zM986 301h3v1h-3zM1101 301h7v1h-7zM498 302h1v1h-1zM989 302h3v1h-3zM1095 302h6v1h-6zM497 303h1v1h-1zM992 303h2v1h-2zM1089 303h6v1h-6zM495 304h2v1h-2zM994 304h6v1h-6zM1083 304h6v1h-6zM494 305h1v1h-1zM1000 305h5v1h-5zM1077 305h6v1h-6zM493 306h1v1h-1zM1005 306h3v1h-3zM1071 306h6v1h-6zM491 307h2v1h-2zM1008 307h2v1h-2zM1066 307h5v1h-5zM490 308h1v1h-1zM1010 308h23v1h-23zM1062 308h4v1h-4zM488 309h2v1h-2zM1033 309h29v1h-29zM487 310h1v1h-1zM485 311h2v1h-2zM483 312h2v1h-2zM481 313h2v1h-2zM479 314h2v1h-2zM477 315h2v1h-2zM476 316h1v1h-1zM474 317h2v1h-2zM473 318h1v1h-1zM472 319h1v1h-1zM470 320h2v1h-2zM469 321h1v1h-1zM468 322h1v1h-1zM466 323h2v1h-2zM465 324h1v1h-1zM463 325h2v1h-2zM462 326h1v1h-1zM461 327h1v1h-1zM459 328h2v1h-2zM458 329h1v1h-1zM457 330h1v1h-1zM455 331h2v1h-2zM454 332h1v1h-1zM452 333h2v1h-2zM451 334h1v1h-1zM450 335h1v1h-1zM448 336h2v1h-2zM447 337h1v1h-1zM446 338h1v1h-1zM444 339h2v1h-2zM443 340h1v1h-1zM442 341h1v1h-1zM440 342h2v1h-2zM439 343h1v1h-1zM438 344h1v1h-1zM437 345h1v1h-1zM436 346h1v1h-1zM434 347h2v1h-2zM433 348h1v1h-1zM432 349h1v1h-1zM430 350h2v1h-2zM428 351h2v1h-2zM427 352h1v1h-1zM425 353h2v1h-2zM423 354h2v1h-2zM422 355h1v1h-1zM420 356h2v1h-2zM418 357h2v1h-2zM416 358h2v1h-2zM414 359h2v1h-2zM412 360h2v1h-2zM410 361h2v1h-2zM407 362h3v1h-3zM405 363h2v1h-2zM402 364h3v1h-3zM400 365h2v1h-2zM398 366h2v1h-2zM396 367h2v1h-2zM394 368h2v1h-2zM392 369h2v1h-2zM390 370h2v1h-2zM388 371h2v1h-2zM386 372h2v1h-2zM384 373h2v1h-2zM382 374h2v1h-2zM379 375h3v1h-3zM375 376h4v1h-4zM372 377h3v1h-3zM370 378h2v1h-2zM368 379h2v1h-2zM366 380h2v1h-2zM364 381h2v1h-2zM362 382h2v1h-2zM361 383h1v1h-1zM360 384h1v1h-1zM358 385h2v1h-2zM357 386h1v1h-1zM355 387h2v1h-2zM354 388h1v1h-1zM352 389h2v1h-2zM350 390h2v1h-2zM349 391h1v1h-1zM347 392h2v1h-2zM346 393h1v1h-1zM344 394h2v1h-2zM342 395h2v1h-2zM340 396h2v1h-2zM338 397h2v1h-2zM336 398h2v1h-2zM334 399h2v1h-2zM332 400h2v1h-2zM330 401h2v1h-2zM327 402h3v1h-3zM325 403h2v1h-2zM323 404h2v1h-2zM321 405h2v1h-2zM319 406h2v1h-2zM317 407h2v1h-2zM314 408h3v1h-3zM310 409h4v1h-4zM308 410h2v1h-2zM306 411h2v1h-2zM304 412h2v1h-2zM301 413h3v1h-3zM299 414h2v1h-2zM296 415h3v1h-3zM293 416h3v1h-3zM291 417h2v1h-2zM288 418h3v1h-3zM286 419h2v1h-2zM283 420h3v1h-3zM280 421h3v1h-3zM278 422h2v1h-2zM274 423h4v1h-4zM270 424h4v1h-4zM266 425h4v1h-4zM257 426h9v1h-9zM239 427h18v1h-18zM228 428h11v1h-11zM220 429h8v1h-8zM216 430h4v1h-4zM118 431h58v1h-58zM198 431h18v1h-18zM112 432h6v1h-6zM176 432h22v1h-22zM98 433h14v1h-14zM94 434h4v1h-4zM84 435h10v1h-10zM64 436h20v1h-20zM48 437h16v1h-16zM23 438h25v1h-25zM15 439h8v1h-8zM3 440h12v1h-12z" fill="#ff00ff"/>
<path d="M571 126h13v1h-13zM569 127h2v1h-2zM584 127h5v1h-5zM567 128h2v1h-2zM589 128h3v1h-3zM565 129h2v1h-2zM592 129h2v1h-2zM563 130h2v1h-2zM594 130h4v1h-4zM561 131h2v1h-2zM598 131h4v1h-4zM560 132h1v1h-1zM602 132h2v1h-2zM558 133h2v1h-2zM604 133h2v1h-2zM556 134h2v1h-2zM606 134h1v1h-1zM555 135h1v1h-1zM607 135h1v1h-1zM554 136h1v1h-1zM608 136h2v1h-2zM553 137h1v1h-1zM610 137h1v1h-1zM552 138h1v1h-1zM611 138h1v1h-1zM551 139h1v1h-1zM612 139h2v1h-2zM550 140h1v1h-1zM614 140h1v1h-1zM549 141h1v1h-1zM615 141h1v1h-1zM548 142h1v1h-1zM616 142h2v1h-2zM547 143h1v1h-1zM618 143h1v1h-1zM546 144h1v1h-1zM619 144h1v1h-1zM545 145h1v1h-1zM620 145h1v1h-1zM544 146h1v1h-1zM621 146h1v1h-1zM543 147h1v1h-1zM622 147h1v1h-1zM543 148h1v1h-1zM623 148h1v1h-1zM542 149h1v1h-1zM623 149h1v1h-1zM541 150h1v1h-1zM624 150h1v1h-1zM540 151h1v1h-1zM625 151h1v1h-1zM539 152h1v1h-1zM626 152h1v1h-1zM538 153h1v1h-1zM627 153h1v1h-1zM537 154h1v1h-1zM628 154h1v1h-1zM536 155h1v1h-1zM629 155h1v1h-1zM535 156h1v1h-1zM630 156h1v1h-1zM535 157h1v1h-1zM631 157h1v1h-1zM534 158h1v1h-1zM632 158h1v1h-1zM533 159h1v1h-1zM633 159h1v1h-1zM532 160h1v1h-1zM634 160h1v1h-1zM531 161h1v1h-1zM635 161h1v1h-1zM530 162h1v1h-1zM636 162h1v1h-1zM528 163h2v1h-2zM637 163h1v1h-1zM527 164h1v1h-1zM638 164h1v1h-1zM526 165h1v1h-1zM639 165h1v1h-1zM524 166h2v1h-2zM639 166h1v1h-1zM523 167h1v1h-1zM640 167h1v1h-1zM522 168h1v1h-1zM641 168h1v1h-1zM520 169h2v1h-2zM642 169h1v1h-1zM519 170h1v1h-1zM643 170h2v1h-2zM518 171h1v1h-1zM645 171h2v1h-2zM516 172h2v1h-2zM647 172h2v1h-2zM515 173h1v1h-1zM649 173h2v1h-2zM514 174h1v1h-1zM651 174h1v1h-1zM512 175h2v1h-2zM652 175h1v1h-1zM511 176h1v1h-1zM653 176h1v1h-1zM510 177h1v1h-1zM654 177h1v1h-1zM508 178h2v1h-2zM655 178h1v1h-1zM507 179h1v1h-1zM656 179h1v1h-1zM505 180h2v1h-2zM657 180h1v1h-1zM504 181h1v1h-1zM658 181h1v1h-1zM502 182h2v1h-2zM659 182h1v1h-1zM500 183h2v1h-2zM660 183h1v1h-1zM499 184h1v1h-1zM661 184h1v1h-1zM498 185h1v1h-1zM662 185h1v1h-1zM496 186h2v1h-2zM663 186h1v1h-1zM495 187h1v1h-1zM664 187h1v1h-1zM494 188h1v1h-1zM665 188h1v1h-1zM492 189h2v1h-2zM666 189h1v1h-1zM491 190h1v1h-1zM667 190h1v1h-1zM490 191h1v1h-1zM668 191h1v1h-1zM488 192h2v1h-2zM669 192h1v1h-1zM487 193h1v1h-1zM670 193h2v1h-2zM486 194h1v1h-1zM672 194h1v1h-1zM484 195h2v1h-2zM673 195h1v1h-1zM483 196h1v1h-1zM674 196h1v1h-1zM481 197h2v1h-2zM675 197h1v1h-1zM479 198h2v1h-2zM676 198h2v1h-2zM477 199h2v1h-2zM678 199h1v1h-1zM475 200h2v1h-2zM679 200h1v1h-1zM473 201h2v1h-2zM680 201h2v1h-2zM471 202h2v1h-2zM682 202h1v1h-1zM469 203h2v1h-2zM683 203h1v1h-1zM467 204h2v1h-2zM684 204h1v1h-1zM466 205h1v1h-1zM685 205h1v1h-1zM465 206h1v1h-1zM686 206h1v1h-1zM464 207h1v1h-1zM687 207h1v1h-1zM462 208h2v1h-2zM687 208h1v1h-1zM461 209h1v1h-1zM688 209h1v1h-1zM460 210h1v1h-1zM689 210h1v1h-1zM459 211h1v1h-1zM690 211h1v1h-1zM458 212h1v1h-1zM691 212h1v1h-1zM457 213h1v1h-1zM692 213h1v1h-1zM457 214h1v1h-1zM692 214h1v1h-1zM456 215h1v1h-1zM693 215h1v1h-1zM455 216h1v1h-1zM694 216h1v1h-1zM454 217h1v1h-1zM695 217h1v1h-1zM453 218h1v1h-1zM695 218h1v1h-1zM453 219h1v1h-1zM696 219h1v1h-1zM452 220h1v1h-1zM697 220h1v1h-1zM451 221h1v1h-1zM698 221h1v1h-1zM450 222h1v1h-1zM698 222h1v1h-1zM449 223h1v1h-1zM699 223h1v1h-1zM1178 223h1v1h-1zM449 224h1v1h-1zM700 224h1v1h-1zM1174 224h4v1h-4zM448 225h1v1h-1zM701 225h1v1h-1zM1138 225h14v1h-14zM1160 225h14v1h-14zM447 226h1v1h-1zM701 226h1v1h-1zM1134 226h4v1h-4zM1152 226h8v1h-8zM446 227h1v1h-1zM702 227h1v1h-1zM1130 227h4v1h-4zM445 228h1v1h-1zM703 228h1v1h-1zM1128 228h2v1h-2zM445 229h1v1h-1zM704 229h1v1h-1zM1125 229h3v1h-3zM444 230h1v1h-1zM705 230h1v1h-1zM1120 230h5v1h-5zM443 231h1v1h-1zM705 231h1v1h-1zM1115 231h5v1h-5zM442 232h1v1h-1zM706 232h1v1h-1zM1113 232h2v1h-2zM441 233h1v1h-1zM707 233h1v1h-1zM1111 233h2v1h-2zM441 234h1v1h-1zM708 234h1v1h-1zM1109 234h2v1h-2zM440 235h1v1h-1zM708 235h1v1h-1zM1107 235h2v1h-2zM439 236h1v1h-1zM709 236h1v1h-1zM1105 236h2v1h-2zM438 237h1v1h-1zM710 237h1v1h-1zM1103 237h2v1h-2zM437 238h1v1h-1zM711 238h1v1h-1zM1101 238h2v1h-2zM437 239h1v1h-1zM711 239h1v1h-1zM1099 239h2v1h-2zM436 240h1v1h-1zM712 240h1v1h-1zM1098 240h1v1h-1zM435 241h1v1h-1zM713 241h1v1h-1zM1096 241h2v1h-2zM434 242h1v1h-1zM714 242h1v1h-1zM1095 242h1v1h-1zM434 243h1v1h-1zM714 243h1v1h-1zM1094 243h1v1h-1zM433 244h1v1h-1zM715 244h1v1h-1zM1092 244h2v1h-2zM432 245h1v1h-1zM716 245h1v1h-1zM1091 245h1v1h-1zM431 246h1v1h-1zM717 246h1v1h-1zM1090 246h1v1h-1zM431 247h1v1h-1zM717 247h1v1h-1zM1088 247h2v1h-2zM430 248h1v1h-1zM718 248h1v1h-1zM1087 248h1v1h-1zM429 249h1v1h-1zM719 249h1v1h-1zM1086 249h1v1h-1zM428 250h1v1h-1zM720 250h1v1h-1zM1084 250h2v1h-2zM428 251h1v1h-1zM721 251h1v1h-1zM1083 251h1v1h-1zM427 252h1v1h-1zM721 252h1v1h-1zM1081 252h2v1h-2zM426 253h1v1h-1zM722 253h1v1h-1zM1080 253h1v1h-1zM425 254h1v1h-1zM723 254h1v1h-1zM1078 254h2v1h-2zM424 255h1v1h-1zM724 255h1v1h-1zM1076 255h2v1h-2zM423 256h1v1h-1zM725 256h1v1h-1zM1075 256h1v1h-1zM422 257h1v1h-1zM725 257h1v1h-1zM1074 257h1v1h-1zM421 258h1v1h-1zM726 258h1v1h-1zM1073 258h1v1h-1zM420 259h1v1h-1zM727 259h1v1h-1zM1072 259h1v1h-1zM419 260h1v1h-1zM728 260h1v1h-1zM1070 260h2v1h-2zM418 261h1v1h-1zM729 261h1v1h-1zM1069 261h1v1h-1zM417 262h1v1h-1zM729 262h1v1h-1zM1068 262h1v1h-1zM416 263h1v1h-1zM730 263h1v1h-1zM1067 263h1v1h-1zM415 264h1v1h-1zM731 264h1v1h-1zM1066 264h1v1h-1zM415 265h1v1h-1zM732 265h1v1h-1zM1064 265h2v1h-2zM414 266h1v1h-1zM733 266h1v1h-1zM1063 266h1v1h-1zM413 267h1v1h-1zM734 267h1v1h-1zM1062 267h1v1h-1zM412 268h1v1h-1zM735 268h1v1h-1zM1060 268h2v1h-2zM411 269h1v1h-1zM735 269h1v1h-1zM1058 269h2v1h-2zM410 270h1v1h-1zM736 270h1v1h-1zM1056 270h2v1h-2zM409 271h1v1h-1zM737 271h1v1h-1zM1053 271h3v1h-3zM408 272h1v1h-1zM738 272h1v1h-1zM1051 272h2v1h-2zM407 273h1v1h-1zM739 273h1v1h-1zM1049 273h2v1h-2zM405 274h2v1h-2zM740 274h2v1h-2zM1047 274h2v1h-2zM404 275h1v1h-1zM742 275h1v1h-1zM1045 275h2v1h-2zM403 276h1v1h-1zM743 276h1v1h-1zM1043 276h2v1h-2zM402 277h1v1h-1zM744 277h2v1h-2zM1041 277h2v1h-2zM401 278h1v1h-1zM746 278h1v1h-1zM1039 278h2v1h-2zM400 279h1v1h-1zM747 279h1v1h-1zM1037 279h2v1h-2zM399 280h1v1h-1zM748 280h1v1h-1zM1034 280h3v1h-3zM397 281h2v1h-2zM749 281h1v1h-1zM1030 281h4v1h-4zM396 282h1v1h-1zM750 282h1v1h-1zM1027 282h3v1h-3zM395 283h1v1h-1zM751 283h1v1h-1zM1025 283h2v1h-2zM394 284h1v1h-1zM752 284h1v1h-1zM1023 284h2v1h-2zM392 285h2v1h-2zM753 285h1v1h-1zM1021 285h2v1h-2zM391 286h1v1h-1zM754 286h1v1h-1zM1019 286h2v1h-2zM390 287h1v1h-1zM755 287h1v1h-1zM1017 287h2v1h-2zM388 288h2v1h-2zM756 288h1v1h-1zM1016 288h1v1h-1zM387 289h1v1h-1zM757 289h1v1h-1zM1014 289h2v1h-2zM386 290h1v1h-1zM758 290h2v1h-2zM1012 290h2v1h-2zM385 291h1v1h-1zM760 291h1v1h-1zM1011 291h1v1h-1zM384 292h1v1h-1zM761 292h1v1h-1zM1010 292h1v1h-1zM383 293h1v1h-1zM762 293h1v1h-1zM1008 293h2v1h-2zM381 294h2v1h-2zM763 294h1v1h-1zM1007 294h1v1h-1zM380 295h1v1h-1zM764 295h2v1h-2zM1006 295h1v1h-1zM379 296h1v1h-1zM766 296h1v1h-1zM1004 296h2v1h-2zM378 297h1v1h-1zM767 297h1v1h-1zM1003 297h1v1h-1zM377 298h1v1h-1zM768 298h2v1h-2zM1002 298h1v1h-1zM376 299h1v1h-1zM770 299h1v1h-1zM1001 299h1v1h-1zM374 300h2v1h-2zM771 300h1v1h-1zM1001 300h1v1h-1zM373 301h1v1h-1zM772 301h1v1h-1zM1000 301h1v1h-1zM371 302h2v1h-2zM773 302h1v1h-1zM999 302h1v1h-1zM370 303h1v1h-1zM774 303h1v1h-1zM998 303h1v1h-1zM369 304h1v1h-1zM775 304h1v1h-1zM997 304h1v1h-1zM368 305h1v1h-1zM776 305h1v1h-1zM997 305h1v1h-1zM366 306h2v1h-2zM777 306h1v1h-1zM996 306h1v1h-1zM365 307h1v1h-1zM778 307h1v1h-1zM995 307h1v1h-1zM364 308h1v1h-1zM779 308h1v1h-1zM994 308h1v1h-1zM363 309h1v1h-1zM780 309h1v1h-1zM993 309h1v1h-1zM362 310h1v1h-1zM781 310h1v1h-1zM993 310h1v1h-1zM361 311h1v1h-1zM782 311h2v1h-2zM992 311h1v1h-1zM360 312h1v1h-1zM784 312h1v1h-1zM991 312h1v1h-1zM359 313h1v1h-1zM785 313h1v1h-1zM990 313h1v1h-1zM359 314h1v1h-1zM786 314h1v1h-1zM989 314h1v1h-1zM358 315h1v1h-1zM787 315h1v1h-1zM989 315h1v1h-1zM357 316h1v1h-1zM788 316h2v1h-2zM988 316h1v1h-1zM356 317h1v1h-1zM790 317h2v1h-2zM987 317h1v1h-1zM355 318h1v1h-1zM792 318h1v1h-1zM986 318h1v1h-1zM354 319h1v1h-1zM793 319h2v1h-2zM985 319h1v1h-1zM354 320h1v1h-1zM795 320h1v1h-1zM984 320h1v1h-1zM353 321h1v1h-1zM796 321h2v1h-2zM983 321h1v1h-1zM352 322h1v1h-1zM798 322h2v1h-2zM982 322h1v1h-1zM351 323h1v1h-1zM800 323h1v1h-1zM981 323h1v1h-1zM351 324h1v1h-1zM801 324h2v1h-2zM980 324h1v1h-1zM350 325h1v1h-1zM803 325h1v1h-1zM979 325h1v1h-1zM349 326h1v1h-1zM804 326h2v1h-2zM978 326h1v1h-1zM348 327h1v1h-1zM806 327h2v1h-2zM976 327h2v1h-2zM348 328h1v1h-1zM808 328h1v1h-1zM975 328h1v1h-1zM347 329h1v1h-1zM809 329h2v1h-2zM974 329h1v1h-1zM346 330h1v1h-1zM811 330h1v1h-1zM972 330h2v1h-2zM346 331h1v1h-1zM812 331h2v1h-2zM971 331h1v1h-1zM345 332h1v1h-1zM814 332h1v1h-1zM970 332h1v1h-1zM344 333h1v1h-1zM815 333h1v1h-1zM968 333h2v1h-2zM343 334h1v1h-1zM816 334h2v1h-2zM967 334h1v1h-1zM343 335h1v1h-1zM818 335h1v1h-1zM966 335h1v1h-1zM342 336h1v1h-1zM819 336h1v1h-1zM964 336h2v1h-2zM341 337h1v1h-1zM820 337h1v1h-1zM963 337h1v1h-1zM340 338h1v1h-1zM821 338h1v1h-1zM961 338h2v1h-2zM340 339h1v1h-1zM822 339h2v1h-2zM960 339h1v1h-1zM339 340h1v1h-1zM824 340h1v1h-1zM958 340h2v1h-2zM338 341h1v1h-1zM825 341h1v1h-1zM956 341h2v1h-2zM338 342h1v1h-1zM826 342h1v1h-1zM955 342h1v1h-1zM337 343h1v1h-1zM827 343h1v1h-1zM953 343h2v1h-2zM336 344h1v1h-1zM828 344h2v1h-2zM952 344h1v1h-1zM335 345h1v1h-1zM830 345h1v1h-1zM950 345h2v1h-2zM335 346h1v1h-1zM831 346h1v1h-1zM948 346h2v1h-2zM334 347h1v1h-1zM832 347h2v1h-2zM947 347h1v1h-1zM333 348h1v1h-1zM834 348h1v1h-1zM946 348h1v1h-1zM332 349h1v1h-1zM835 349h1v1h-1zM944 349h2v1h-2zM332 350h1v1h-1zM836 350h2v1h-2zM943 350h1v1h-1zM331 351h1v1h-1zM838 351h1v1h-1zM942 351h1v1h-1zM330 352h1v1h-1zM839 352h1v1h-1zM940 352h2v1h-2zM329 353h1v1h-1zM840 353h2v1h-2zM939 353h1v1h-1zM329 354h1v1h-1zM842 354h1v1h-1zM937 354h2v1h-2zM328 355h1v1h-1zM843 355h1v1h-1zM935 355h2v1h-2zM327 356h1v1h-1zM844 356h2v1h-2zM933 356h2v1h-2zM326 357h1v1h-1zM846 357h2v1h-2zM930 357h3v1h-3zM325 358h1v1h-1zM848 358h1v1h-1zM928 358h2v1h-2zM325 359h1v1h-1zM849 359h2v1h-2zM925 359h3v1h-3zM324 360h1v1h-1zM851 360h2v1h-2zM922 360h3v1h-3zM323 361h1v1h-1zM853 361h2v1h-2zM918 361h4v1h-4zM322 362h1v1h-1zM855 362h2v1h-2zM914 362h4v1h-4zM320 363h2v1h-2zM857 363h2v1h-2zM910 363h4v1h-4zM319 364h1v1h-1zM859 364h5v1h-5zM906 364h4v1h-4zM318 365h1v1h-1zM864 365h6v1h-6zM902 365h4v1h-4zM316 366h2v1h-2zM870 366h4v1h-4zM896 366h6v1h-6zM315 367h1v1h-1zM874 367h6v1h-6zM888 367h8v1h-8zM314 368h1v1h-1zM880 368h8v1h-8zM313 369h1v1h-1zM312 370h1v1h-1zM310 371h2v1h-2zM309 372h1v1h-1zM308 373h1v1h-1zM307 374h1v1h-1zM306 375h1v1h-1zM305 376h1v1h-1zM304 377h1v1h-1zM303 378h1v1h-1zM302 379h1v1h-1zM301 380h1v1h-1zM300 381h1v1h-1zM299 382h1v1h-1zM298 383h1v1h-1zM297 384h1v1h-1zM296 385h1v1h-1zM295 386h1v1h-1zM294 387h1v1h-1zM293 388h1v1h-1zM292 389h1v1h-1zM291 390h1v1h-1zM289 391h2v1h-2zM287 392h2v1h-2zM285 393h2v1h-2zM282 394h3v1h-3zM280 395h2v1h-2zM277 396h3v1h-3zM274 397h3v1h-3zM270 398h4v1h-4zM266 399h4v1h-4zM264 400h2v1h-2zM261 401h3v1h-3zM258 402h3v1h-3zM254 403h4v1h-4zM250 404h4v1h-4zM246 405h4v1h-4zM242 406h4v1h-4zM238 407h4v1h-4zM234 408h4v1h-4zM230 409h4v1h-4zM226 410h4v1h-4zM222 411h4v1h-4zM218 412h4v1h-4zM216 413h2v1h-2zM213 414h3v1h-3zM210 415h3v1h-3zM206 416h4v1h-4zM202 417h4v1h-4zM152 418h22v1h-22zM198 418h4v1h-4zM146 419h6v1h-6zM174 419h4v1h-4zM194 419h4v1h-4zM144 420h2v1h-2zM178 420h6v1h-6zM190 420h4v1h-4zM141 421h3v1h-3zM184 421h6v1h-6zM138 422h3v1h-3zM134 423h4v1h-4zM130 424h4v1h-4zM126 425h4v1h-4zM122 426h4v1h-4zM120 427h2v1h-2zM117 428h3v1h-3zM115 429h2v1h-2zM113 430h2v1h-2zM111 431h2v1h-2zM109 432h2v1h-2zM107 433h2v1h-2zM105 434h2v1h-2zM103 435h2v1h-2zM101 436h2v1h-2zM98 437h3v1h-3zM96 438h2v1h-2zM93 439h3v1h-3zM88 440h5v1h-5zM80 441h8v1h-8zM72 442h8v1h-8zM66 443h6v1h-6zM62 444h4v1h-4zM56 445h6v1h-6zM16 446h8v1h-8zM48 446h8v1h-8zM8 447h8v1h-8zM24 447h24v1h-24zM3 448h5v1h-5z" fill="#ff0000"/>
<path d="M505 481h5v1h-5zM513 481h5v1h-5zM521 481h5v1h-5zM497 482h5v1h-5zM529 482h5v1h-5zM490 483h4v1h-4zM537 483h5v1h-5zM489 484h1v1h-1zM545 484h5v1h-5zM553 484h5v1h-5zM482 485h4v1h-4zM561 485h5v1h-5zM377 486h5v1h-5zM385 486h5v1h-5zM393 486h5v1h-5zM481 486h1v1h-1zM569 486h1v1h-1zM369 487h5v1h-5zM401 487h5v1h-5zM474 487h4v1h-4zM570 487h4v1h-4zM362 488h4v1h-4zM409 488h1v1h-1zM473 488h1v1h-1zM577 488h1v1h-1zM361 489h1v1h-1zM410 489h4v1h-4zM466 489h4v1h-4zM578 489h3v1h-3zM354 490h4v1h-4zM417 490h5v1h-5zM465 490h1v1h-1zM581 490h1v1h-1zM353 491h1v1h-1zM425 491h5v1h-5zM457 491h5v1h-5zM349 492h1v1h-1zM433 492h1v1h-1zM449 492h5v1h-5zM585 492h2v1h-2zM346 493h3v1h-3zM434 493h4v1h-4zM441 493h5v1h-5zM587 493h2v1h-2zM345 494h1v1h-1zM589 494h1v1h-1zM341 495h1v1h-1zM338 496h3v1h-3zM593 496h2v1h-2zM337 497h1v1h-1zM595 497h2v1h-2zM333 498h1v1h-1zM597 498h1v1h-1zM330 499h3v1h-3zM329 500h1v1h-1zM601 500h2v1h-2zM325 501h1v1h-1zM603 501h1v1h-1zM322 502h3v1h-3zM604 502h2v1h-2zM321 503h1v1h-1zM1113 503h5v1h-5zM1121 503h5v1h-5zM1129 503h5v1h-5zM317 504h1v1h-1zM1097 504h5v1h-5zM1105 504h5v1h-5zM1137 504h5v1h-5zM314 505h3v1h-3zM609 505h2v1h-2zM1041 505h5v1h-5zM1049 505h5v1h-5zM1057 505h5v1h-5zM1065 505h5v1h-5zM1073 505h5v1h-5zM1081 505h5v1h-5zM1089 505h5v1h-5zM1145 505h5v1h-5zM313 506h1v1h-1zM611 506h1v1h-1zM1033 506h5v1h-5zM1153 506h5v1h-5zM309 507h1v1h-1zM612 507h2v1h-2zM1025 507h5v1h-5zM1161 507h5v1h-5zM306 508h3v1h-3zM1018 508h4v1h-4zM1169 508h1v1h-1zM305 509h1v1h-1zM1017 509h1v1h-1zM1170 509h4v1h-4zM301 510h1v1h-1zM617 510h2v1h-2zM1010 510h4v1h-4zM1177 510h2v1h-2zM298 511h3v1h-3zM619 511h1v1h-1zM1009 511h1v1h-1zM297 512h1v1h-1zM620 512h2v1h-2zM1002 512h4v1h-4zM289 513h5v1h-5zM1001 513h1v1h-1zM282 514h4v1h-4zM994 514h4v1h-4zM281 515h1v1h-1zM625 515h2v1h-2zM993 515h1v1h-1zM153 516h5v1h-5zM161 516h5v1h-5zM169 516h5v1h-5zM177 516h5v1h-5zM273 516h5v1h-5zM627 516h1v1h-1zM989 516h1v1h-1zM145 517h5v1h-5zM185 517h5v1h-5zM265 517h5v1h-5zM628 517h2v1h-2zM986 517h3v1h-3zM137 518h5v1h-5zM193 518h5v1h-5zM257 518h5v1h-5zM985 518h1v1h-1zM129 519h5v1h-5zM201 519h5v1h-5zM209 519h5v1h-5zM217 519h5v1h-5zM233 519h5v1h-5zM241 519h5v1h-5zM249 519h5v1h-5zM978 519h4v1h-4zM121 520h5v1h-5zM225 520h5v1h-5zM633 520h1v1h-1zM977 520h1v1h-1zM113 521h5v1h-5zM634 521h1v1h-1zM970 521h4v1h-4zM73 522h5v1h-5zM81 522h5v1h-5zM89 522h5v1h-5zM97 522h5v1h-5zM105 522h5v1h-5zM635 522h1v1h-1zM969 522h1v1h-1zM57 523h5v1h-5zM65 523h5v1h-5zM636 523h2v1h-2zM962 523h4v1h-4zM41 524h5v1h-5zM49 524h5v1h-5zM961 524h1v1h-1zM33 525h5v1h-5zM954 525h4v1h-4zM25 526h5v1h-5zM641 526h2v1h-2zM953 526h1v1h-1zM9 527h5v1h-5zM17 527h5v1h-5zM643 527h2v1h-2zM946 527h4v1h-4zM3 528h3v1h-3zM645 528h1v1h-1zM945 528h1v1h-1zM938 529h4v1h-4zM649 530h2v1h-2zM937 530h1v1h-1zM651 531h2v1h-2zM933 531h1v1h-1zM653 532h1v1h-1zM930 532h3v1h-3zM929 533h1v1h-1zM657 534h2v1h-2zM922 534h4v1h-4zM659 535h2v1h-2zM921 535h1v1h-1zM661 536h1v1h-1zM917 536h1v1h-1zM914 537h3v1h-3zM665 538h2v1h-2zM913 538h1v1h-1zM667 539h3v1h-3zM909 539h1v1h-1zM673 540h1v1h-1zM906 540h3v1h-3zM674 541h4v1h-4zM905 541h1v1h-1zM681 542h5v1h-5zM901 542h1v1h-1zM689 543h5v1h-5zM899 543h2v1h-2zM697 544h1v1h-1zM897 544h2v1h-2zM698 545h4v1h-4zM705 545h5v1h-5zM713 546h5v1h-5zM721 546h5v1h-5zM893 546h1v1h-1zM729 547h5v1h-5zM890 547h3v1h-3zM737 548h5v1h-5zM745 548h5v1h-5zM889 548h1v1h-1zM753 549h1v1h-1zM885 549h1v1h-1zM754 550h4v1h-4zM882 550h3v1h-3zM761 551h1v1h-1zM881 551h1v1h-1zM762 552h4v1h-4zM874 552h4v1h-4zM769 553h1v1h-1zM873 553h1v1h-1zM770 554h4v1h-4zM869 554h1v1h-1zM777 555h1v1h-1zM865 555h4v1h-4zM778 556h4v1h-4zM858 556h4v1h-4zM785 557h1v1h-1zM857 557h1v1h-1zM786 558h4v1h-4zM850 558h4v1h-4zM793 559h5v1h-5zM849 559h1v1h-1zM801 560h5v1h-5zM841 560h5v1h-5zM809 561h5v1h-5zM817 561h5v1h-5zM825 561h5v1h-5zM833 561h5v1h-5z" fill="#ff0000"/>
<path d="M306 591h3v1h-3zM304 592h2v1h-2zM309 592h2v1h-2zM301 593h3v1h-3zM311 593h2v1h-2zM298 594h3v1h-3zM313 594h2v1h-2zM294 595h4v1h-4zM315 595h1v1h-1zM291 596h3v1h-3zM316 596h1v1h-1zM443 596h2v1h-2zM289 597h2v1h-2zM316 597h1v1h-1zM442 597h1v1h-1zM445 597h2v1h-2zM275 598h3v1h-3zM287 598h2v1h-2zM317 598h1v1h-1zM354 598h2v1h-2zM442 598h1v1h-1zM447 598h2v1h-2zM115 599h1v1h-1zM274 599h1v1h-1zM278 599h4v1h-4zM285 599h2v1h-2zM317 599h1v1h-1zM352 599h2v1h-2zM356 599h1v1h-1zM441 599h1v1h-1zM449 599h2v1h-2zM986 599h11v1h-11zM113 600h2v1h-2zM116 600h1v1h-1zM273 600h1v1h-1zM282 600h3v1h-3zM318 600h1v1h-1zM349 600h3v1h-3zM357 600h1v1h-1zM440 600h1v1h-1zM451 600h10v1h-10zM982 600h4v1h-4zM997 600h3v1h-3zM111 601h2v1h-2zM117 601h1v1h-1zM272 601h1v1h-1zM319 601h1v1h-1zM331 601h3v1h-3zM346 601h3v1h-3zM358 601h1v1h-1zM439 601h1v1h-1zM461 601h3v1h-3zM979 601h3v1h-3zM1000 601h2v1h-2zM1067 601h5v1h-5zM109 602h2v1h-2zM118 602h1v1h-1zM271 602h1v1h-1zM319 602h1v1h-1zM330 602h1v1h-1zM334 602h4v1h-4zM342 602h4v1h-4zM359 602h1v1h-1zM439 602h1v1h-1zM464 602h2v1h-2zM977 602h2v1h-2zM1002 602h2v1h-2zM1065 602h2v1h-2zM1072 602h13v1h-13zM107 603h2v1h-2zM119 603h1v1h-1zM271 603h1v1h-1zM320 603h1v1h-1zM329 603h1v1h-1zM338 603h4v1h-4zM360 603h1v1h-1zM438 603h1v1h-1zM466 603h2v1h-2zM523 603h1v1h-1zM975 603h2v1h-2zM1004 603h2v1h-2zM1064 603h1v1h-1zM1085 603h3v1h-3zM1098 603h10v1h-10zM106 604h1v1h-1zM119 604h1v1h-1zM270 604h1v1h-1zM321 604h1v1h-1zM328 604h1v1h-1zM361 604h1v1h-1zM437 604h1v1h-1zM468 604h1v1h-1zM521 604h2v1h-2zM524 604h1v1h-1zM973 604h2v1h-2zM1006 604h1v1h-1zM1062 604h2v1h-2zM1088 604h2v1h-2zM1094 604h4v1h-4zM1108 604h1v1h-1zM105 605h1v1h-1zM120 605h1v1h-1zM269 605h1v1h-1zM321 605h1v1h-1zM326 605h2v1h-2zM362 605h1v1h-1zM436 605h1v1h-1zM469 605h1v1h-1zM520 605h1v1h-1zM525 605h1v1h-1zM970 605h3v1h-3zM1007 605h1v1h-1zM1060 605h2v1h-2zM1090 605h4v1h-4zM1108 605h1v1h-1zM104 606h1v1h-1zM121 606h1v1h-1zM268 606h1v1h-1zM322 606h1v1h-1zM325 606h1v1h-1zM363 606h1v1h-1zM427 606h5v1h-5zM436 606h1v1h-1zM469 606h1v1h-1zM518 606h2v1h-2zM526 606h2v1h-2zM968 606h2v1h-2zM1008 606h2v1h-2zM1059 606h1v1h-1zM1109 606h1v1h-1zM103 607h1v1h-1zM122 607h1v1h-1zM267 607h1v1h-1zM322 607h1v1h-1zM324 607h1v1h-1zM364 607h1v1h-1zM425 607h2v1h-2zM432 607h4v1h-4zM470 607h1v1h-1zM516 607h2v1h-2zM528 607h1v1h-1zM544 607h5v1h-5zM965 607h3v1h-3zM1010 607h1v1h-1zM1057 607h2v1h-2zM1110 607h1v1h-1zM102 608h1v1h-1zM123 608h1v1h-1zM266 608h1v1h-1zM323 608h1v1h-1zM365 608h1v1h-1zM423 608h2v1h-2zM471 608h1v1h-1zM512 608h4v1h-4zM529 608h1v1h-1zM538 608h6v1h-6zM549 608h3v1h-3zM960 608h5v1h-5zM1011 608h1v1h-1zM1055 608h2v1h-2zM1110 608h1v1h-1zM101 609h1v1h-1zM124 609h1v1h-1zM264 609h2v1h-2zM366 609h2v1h-2zM421 609h2v1h-2zM472 609h1v1h-1zM504 609h8v1h-8zM530 609h1v1h-1zM534 609h4v1h-4zM552 609h2v1h-2zM954 609h6v1h-6zM1012 609h2v1h-2zM1043 609h5v1h-5zM1053 609h2v1h-2zM1111 609h1v1h-1zM100 610h1v1h-1zM124 610h1v1h-1zM263 610h1v1h-1zM368 610h1v1h-1zM419 610h2v1h-2zM473 610h1v1h-1zM490 610h14v1h-14zM531 610h3v1h-3zM554 610h2v1h-2zM950 610h4v1h-4zM1014 610h1v1h-1zM1041 610h2v1h-2zM1048 610h5v1h-5zM1112 610h1v1h-1zM99 611h1v1h-1zM125 611h1v1h-1zM262 611h1v1h-1zM369 611h1v1h-1zM417 611h2v1h-2zM473 611h1v1h-1zM488 611h2v1h-2zM556 611h1v1h-1zM946 611h4v1h-4zM1015 611h1v1h-1zM1040 611h1v1h-1zM1112 611h1v1h-1zM10 612h6v1h-6zM98 612h1v1h-1zM125 612h1v1h-1zM260 612h2v1h-2zM370 612h1v1h-1zM415 612h2v1h-2zM474 612h1v1h-1zM485 612h3v1h-3zM557 612h1v1h-1zM944 612h2v1h-2zM1016 612h2v1h-2zM1038 612h2v1h-2zM1113 612h1v1h-1zM8 613h2v1h-2zM16 613h4v1h-4zM96 613h2v1h-2zM126 613h1v1h-1zM195 613h9v1h-9zM258 613h2v1h-2zM371 613h2v1h-2zM413 613h2v1h-2zM475 613h10v1h-10zM558 613h1v1h-1zM941 613h3v1h-3zM1018 613h1v1h-1zM1024 613h8v1h-8zM1036 613h2v1h-2zM1114 613h1v1h-1zM5 614h3v1h-3zM20 614h1v1h-1zM95 614h1v1h-1zM126 614h1v1h-1zM194 614h1v1h-1zM204 614h2v1h-2zM254 614h4v1h-4zM373 614h2v1h-2zM386 614h12v1h-12zM410 614h3v1h-3zM559 614h1v1h-1zM939 614h2v1h-2zM1019 614h5v1h-5zM1032 614h4v1h-4zM1114 614h1v1h-1zM1163 614h5v1h-5zM3 615h2v1h-2zM21 615h1v1h-1zM94 615h1v1h-1zM127 615h1v1h-1zM194 615h1v1h-1zM206 615h2v1h-2zM248 615h6v1h-6zM375 615h2v1h-2zM384 615h2v1h-2zM398 615h4v1h-4zM406 615h4v1h-4zM560 615h1v1h-1zM891 615h2v1h-2zM937 615h2v1h-2zM1115 615h2v1h-2zM1136 615h4v1h-4zM1162 615h1v1h-1zM1168 615h8v1h-8zM22 616h2v1h-2zM75 616h1v1h-1zM92 616h2v1h-2zM127 616h1v1h-1zM146 616h3v1h-3zM193 616h1v1h-1zM208 616h1v1h-1zM218 616h4v1h-4zM240 616h8v1h-8zM377 616h2v1h-2zM381 616h3v1h-3zM402 616h4v1h-4zM561 616h1v1h-1zM889 616h2v1h-2zM893 616h3v1h-3zM936 616h1v1h-1zM1117 616h3v1h-3zM1130 616h6v1h-6zM1140 616h2v1h-2zM1161 616h1v1h-1zM1176 616h3v1h-3zM24 617h1v1h-1zM74 617h1v1h-1zM76 617h1v1h-1zM91 617h1v1h-1zM128 617h1v1h-1zM142 617h4v1h-4zM149 617h3v1h-3zM193 617h1v1h-1zM209 617h2v1h-2zM214 617h4v1h-4zM222 617h4v1h-4zM232 617h8v1h-8zM379 617h2v1h-2zM562 617h1v1h-1zM867 617h10v1h-10zM888 617h1v1h-1zM896 617h2v1h-2zM934 617h2v1h-2zM1120 617h2v1h-2zM1126 617h4v1h-4zM1142 617h1v1h-1zM1161 617h1v1h-1zM25 618h1v1h-1zM73 618h1v1h-1zM77 618h1v1h-1zM90 618h1v1h-1zM128 618h1v1h-1zM139 618h3v1h-3zM152 618h2v1h-2zM192 618h1v1h-1zM211 618h3v1h-3zM226 618h6v1h-6zM563 618h1v1h-1zM866 618h1v1h-1zM877 618h3v1h-3zM886 618h2v1h-2zM898 618h4v1h-4zM932 618h2v1h-2zM1122 618h4v1h-4zM1143 618h1v1h-1zM1160 618h1v1h-1zM26 619h1v1h-1zM50 619h6v1h-6zM72 619h1v1h-1zM78 619h2v1h-2zM88 619h2v1h-2zM129 619h1v1h-1zM137 619h2v1h-2zM154 619h3v1h-3zM191 619h1v1h-1zM564 619h2v1h-2zM864 619h2v1h-2zM880 619h2v1h-2zM884 619h2v1h-2zM902 619h4v1h-4zM920 619h12v1h-12zM1144 619h2v1h-2zM1159 619h1v1h-1zM27 620h3v1h-3zM48 620h2v1h-2zM56 620h5v1h-5zM70 620h2v1h-2zM80 620h1v1h-1zM87 620h1v1h-1zM129 620h1v1h-1zM136 620h1v1h-1zM157 620h2v1h-2zM191 620h1v1h-1zM566 620h2v1h-2zM863 620h1v1h-1zM882 620h2v1h-2zM906 620h14v1h-14zM1146 620h1v1h-1zM1158 620h1v1h-1zM30 621h4v1h-4zM45 621h3v1h-3zM61 621h3v1h-3zM69 621h1v1h-1zM81 621h1v1h-1zM86 621h1v1h-1zM130 621h1v1h-1zM134 621h2v1h-2zM159 621h2v1h-2zM190 621h1v1h-1zM568 621h1v1h-1zM862 621h1v1h-1zM1147 621h2v1h-2zM1157 621h1v1h-1zM34 622h11v1h-11zM64 622h2v1h-2zM68 622h1v1h-1zM82 622h1v1h-1zM84 622h2v1h-2zM130 622h1v1h-1zM132 622h2v1h-2zM161 622h2v1h-2zM189 622h1v1h-1zM569 622h2v1h-2zM860 622h2v1h-2zM1149 622h3v1h-3zM1157 622h1v1h-1zM66 623h2v1h-2zM83 623h1v1h-1zM131 623h1v1h-1zM163 623h2v1h-2zM189 623h1v1h-1zM571 623h1v1h-1zM859 623h1v1h-1zM1152 623h2v1h-2zM1156 623h1v1h-1zM165 624h2v1h-2zM188 624h1v1h-1zM572 624h1v1h-1zM858 624h1v1h-1zM1154 624h2v1h-2zM167 625h2v1h-2zM188 625h1v1h-1zM573 625h1v1h-1zM857 625h1v1h-1zM169 626h2v1h-2zM176 626h12v1h-12zM573 626h1v1h-1zM856 626h1v1h-1zM171 627h5v1h-5zM574 627h1v1h-1zM610 627h2v1h-2zM854 627h2v1h-2zM575 628h1v1h-1zM608 628h2v1h-2zM612 628h2v1h-2zM672 628h13v1h-13zM853 628h1v1h-1zM576 629h1v1h-1zM605 629h3v1h-3zM614 629h2v1h-2zM666 629h6v1h-6zM685 629h2v1h-2zM852 629h1v1h-1zM577 630h1v1h-1zM602 630h3v1h-3zM616 630h1v1h-1zM651 630h5v1h-5zM662 630h4v1h-4zM687 630h2v1h-2zM851 630h1v1h-1zM577 631h1v1h-1zM598 631h4v1h-4zM617 631h2v1h-2zM650 631h1v1h-1zM656 631h6v1h-6zM689 631h2v1h-2zM849 631h2v1h-2zM578 632h1v1h-1zM584 632h14v1h-14zM619 632h2v1h-2zM648 632h2v1h-2zM691 632h5v1h-5zM847 632h2v1h-2zM579 633h5v1h-5zM621 633h2v1h-2zM634 633h3v1h-3zM647 633h1v1h-1zM696 633h8v1h-8zM845 633h2v1h-2zM623 634h2v1h-2zM632 634h2v1h-2zM637 634h3v1h-3zM646 634h1v1h-1zM704 634h6v1h-6zM803 634h2v1h-2zM840 634h5v1h-5zM625 635h2v1h-2zM629 635h3v1h-3zM640 635h2v1h-2zM644 635h2v1h-2zM710 635h4v1h-4zM801 635h2v1h-2zM805 635h2v1h-2zM835 635h5v1h-5zM627 636h2v1h-2zM642 636h2v1h-2zM714 636h3v1h-3zM799 636h2v1h-2zM807 636h2v1h-2zM818 636h3v1h-3zM833 636h2v1h-2zM717 637h2v1h-2zM797 637h2v1h-2zM809 637h2v1h-2zM814 637h4v1h-4zM821 637h3v1h-3zM831 637h2v1h-2zM719 638h2v1h-2zM730 638h6v1h-6zM795 638h2v1h-2zM811 638h3v1h-3zM824 638h2v1h-2zM829 638h2v1h-2zM721 639h2v1h-2zM726 639h4v1h-4zM736 639h5v1h-5zM793 639h2v1h-2zM826 639h3v1h-3zM723 640h3v1h-3zM741 640h2v1h-2zM792 640h1v1h-1zM743 641h2v1h-2zM790 641h2v1h-2zM745 642h2v1h-2zM788 642h2v1h-2zM747 643h3v1h-3zM786 643h2v1h-2zM750 644h4v1h-4zM770 644h6v1h-6zM782 644h4v1h-4zM754 645h4v1h-4zM768 645h2v1h-2zM776 645h6v1h-6zM758 646h4v1h-4zM765 646h3v1h-3zM762 647h3v1h-3z" fill="#1e90ff"/>
<rect x="2" y="5" width="1189" height="1" fill="#000"/>
<rect x="2" y="5" width="1" height="464" fill="#000"/>
<rect x="2" y="468" width="1189" height="1" fill="#000"/>
<rect x="1190" y="5" width="1" height="464" fill="#000"/>
<rect x="2" y="470" width="1189" height="1" fill="#000"/>
<rect x="2" y="470" width="1" height="100" fill="#000"/>
<rect x="2" y="569" width="1189" height="1" fill="#000"/>
<rect x="1190" y="470" width="1" height="100" fill="#000"/>
<rect x="2" y="571" width="1189" height="1" fill="#000"/>
<rect x="2" y="571" width="1" height="102" fill="#000"/>
<rect x="2" y="672" width="1189" height="1" fill="#000"/>
<rect x="1190" y="571" width="1" height="102" fill="#000"/>
<rect x="1190" y="217" width="1" height="1" fill="#c0c0c0"/>
<rect x="2" y="249" width="1189" height="2" fill="#00d000"/>
<rect x="2" y="302" width="1189" height="2" fill="#4262e1"/>
<rect x="2" y="350" width="1189" height="2" fill="#4262e1"/>
<rect x="2" y="409" width="1189" height="2" fill="#4262e1"/>
<rect x="1191" y="36" width="2" height="1" fill="#000"/>
<rect x="1191" y="69" width="2" height="1" fill="#000"/>
<rect x="1191" y="102" width="2" height="1" fill="#000"/>
<rect x="1191" y="135" width="2" height="1" fill="#000"/>
<rect x="1191" y="168" width="2" height="1" fill="#000"/>
<rect x="1191" y="201" width="2" height="1" fill="#000"/>
<rect x="1191" y="234" width="2" height="1" fill="#000"/>
<rect x="1191" y="267" width="2" height="1" fill="#000"/>
<rect x="1191" y="300" width="2" height="1" fill="#000"/>
<rect x="1191" y="333" width="2" height="1" fill="#000"/>
<rect x="1191" y="366" width="2" height="1" fill="#000"/>
<rect x="1191" y="399" width="2" height="1" fill="#000"/>
<rect x="1191" y="432" width="2" height="1" fill="#000"/>
<rect x="1191" y="465" width="2" height="1" fill="#000"/>
<rect x="1191" y="472" width="1" height="1" fill="#000"/>
<rect x="1191" y="524" width="1" height="1" fill="#000"/>
<rect x="1191" y="568" width="1" height="1" fill="#000"/>
<rect x="1191" y="573" width="1" height="1" fill="#000"/>
<rect x="1191" y="671" width="1" height="1" fill="#000"/>
<rect x="3" y="673" width="1" height="3" fill="#000"/>
<rect x="67" y="673" width="1" height="3" fill="#000"/>
<rect x="131" y="673" width="1" height="3" fill="#000"/>
<rect x="195" y="673" width="1" height="3" fill="#000"/>
<rect x="259" y="673" width="1" height="3" fill="#000"/>
<rect x="323" y="673" width="1" height="3" fill="#000"/>
<rect x="387" y="673" width="1" height="3" fill="#000"/>
<rect x="451" y="673" width="1" height="3" fill="#000"/>
<rect x="515" y="673" width="1" height="3" fill="#000"/>
<rect x="579" y="673" width="1" height="3" fill="#000"/>
<rect x="643" y="673" width="1" height="3" fill="#000"/>
<rect x="707" y="673" width="1" height="3" fill="#000"/>
<rect x="771" y="673" width="1" height="3" fill="#000"/>
<rect x="835" y="673" width="1" height="3" fill="#000"/>
<rect x="899" y="673" width="1" height="3" fill="#000"/>
<rect x="963" y="673" width="1" height="3" fill="#000"/>
<rect x="1027" y="673" width="1" height="3" fill="#000"/>
<rect x="1091" y="673" width="1" height="3" fill="#000"/>
<rect x="1155" y="673" width="1" height="3" fill="#000"/>
<rect x="6" y="12" width="7" height="1" fill="#000"/>
<rect x="7" y="13" width="5" height="1" fill="#000"/>
<rect x="8" y="14" width="3" height="1" fill="#000"/>
<rect x="9" y="15" width="1" height="1" fill="#000"/>
<rect x="1193" y="212" width="39" height="11" fill="#000"/>
<rect x="1193" y="244" width="39" height="11" fill="#00d000"/>
<rect x="1193" y="297" width="39" height="11" fill="#4262e1"/>
<rect x="1193" y="345" width="39" height="11" fill="#4262e1"/>
<rect x="1193" y="404" width="34" height="11" fill="#4262e1"/>
</svg>
<div id="labels">
<div class="l"><span class="t" style="left:18.00px;top:8.50px;letter-spacing:0.113px">USOil-,H4</span> <span class="t" style="left:67.00px;top:8.50px;letter-spacing:-0.121px">112.808</span> <span class="t" style="left:103.00px;top:8.50px;letter-spacing:-0.121px">112.828</span> <span class="t" style="left:139.00px;top:8.50px;letter-spacing:-0.121px">112.368</span> <span class="t" style="left:175.00px;top:8.50px;letter-spacing:-0.121px">112.628</span></div>
<div class="l"><span class="t" style="left:7.00px;top:474.50px;letter-spacing:0.007px">MACD(12,26,9)</span> <span class="t" style="left:75.00px;top:474.50px;letter-spacing:-0.107px">1.1825</span> <span class="t" style="left:106.00px;top:474.50px;letter-spacing:-0.107px">1.6231</span></div>
<div class="l"><span class="t" style="left:7.00px;top:575.50px;letter-spacing:0.124px">RSI(14)</span> <span class="t" style="left:42.00px;top:575.50px;letter-spacing:-0.121px">56.3264</span></div>
<div class="l"><span class="t" style="left:1196.00px;top:31.50px;letter-spacing:-0.121px">129.630</span></div>
<div class="l"><span class="t" style="left:1196.00px;top:64.50px;letter-spacing:-0.121px">126.570</span></div>
<div class="l"><span class="t" style="left:1196.00px;top:97.50px;letter-spacing:-0.121px">123.420</span></div>
<div class="l"><span class="t" style="left:1196.00px;top:130.50px;letter-spacing:-0.121px">120.360</span></div>
<div class="l"><span class="t" style="left:1196.00px;top:163.50px;letter-spacing:-0.121px">117.210</span></div>
<div class="l"><span class="t" style="left:1196.00px;top:196.50px;letter-spacing:-0.121px">114.150</span></div>
<div class="l"><span class="t" style="left:1196.00px;top:229.50px;letter-spacing:-0.121px">111.000</span></div>
<div class="l"><span class="t" style="left:1196.00px;top:262.50px;letter-spacing:-0.121px">107.940</span></div>
<div class="l"><span class="t" style="left:1196.00px;top:328.50px;letter-spacing:-0.121px">101.730</span></div>
<div class="l"><span class="t" style="left:1196.00px;top:361.50px;letter-spacing:-0.107px">98.580</span></div>
<div class="l"><span class="t" style="left:1196.00px;top:394.50px;letter-spacing:-0.107px">95.520</span></div>
<div class="l"><span class="t" style="left:1196.00px;top:427.50px;letter-spacing:-0.107px">92.370</span></div>
<div class="l"><span class="t" style="left:1196.00px;top:460.50px;letter-spacing:-0.107px">89.310</span></div>
<div class="l"><span class="t" style="left:1196.00px;top:212.50px;letter-spacing:-0.121px;color:#fff;-webkit-text-stroke:0.35px #fff">112.628</span></div>
<div class="l"><span class="t" style="left:1196.00px;top:244.50px;letter-spacing:-0.121px;color:#fff;-webkit-text-stroke:0.35px #fff">109.500</span></div>
<div class="l"><span class="t" style="left:1196.00px;top:297.50px;letter-spacing:-0.121px;color:#fff;-webkit-text-stroke:0.35px #fff">104.500</span></div>
<div class="l"><span class="t" style="left:1196.00px;top:345.50px;letter-spacing:-0.121px;color:#fff;-webkit-text-stroke:0.35px #fff">100.000</span></div>
<div class="l"><span class="t" style="left:1196.00px;top:404.50px;letter-spacing:-0.107px;color:#fff;-webkit-text-stroke:0.35px #fff">94.500</span></div>
<div class="l"><span class="t" style="left:1194.00px;top:472.50px;letter-spacing:-0.107px">6.0651</span></div>
<div class="l"><span class="t" style="left:1194.00px;top:519.50px;letter-spacing:-0.054px">0.00</span></div>
<div class="l"><span class="t" style="left:1194.00px;top:557.50px;letter-spacing:-0.108px">-5.0609</span></div>
<div class="l"><span class="t" style="left:1194.00px;top:573.50px;letter-spacing:-0.216px">100</span></div>
<div class="l"><span class="t" style="left:1193.00px;top:597.50px;letter-spacing:-0.214px">70</span></div>
<div class="l"><span class="t" style="left:1193.00px;top:637.50px;letter-spacing:-0.214px">30</span></div>
<div class="l"><span class="t" style="left:1194.00px;top:660.50px;letter-spacing:-0.221px">0</span></div>
<div class="l"><span class="t" style="left:2.00px;top:676.50px;letter-spacing:-0.214px">22</span> <span class="t" style="left:15.00px;top:676.50px;letter-spacing:-0.404px">Feb</span> <span class="t" style="left:33.00px;top:676.50px;letter-spacing:-0.214px">2022</span></div>
<div class="l"><span class="t" style="left:66.00px;top:676.50px;letter-spacing:-0.214px">23</span> <span class="t" style="left:79.00px;top:676.50px;letter-spacing:-0.404px">Feb</span> <span class="t" style="left:97.00px;top:676.50px;letter-spacing:-0.084px">08:00</span></div>
<div class="l"><span class="t" style="left:130.00px;top:676.50px;letter-spacing:-0.214px">24</span> <span class="t" style="left:143.00px;top:676.50px;letter-spacing:-0.404px">Feb</span> <span class="t" style="left:161.00px;top:676.50px;letter-spacing:-0.084px">16:00</span></div>
<div class="l"><span class="t" style="left:194.00px;top:676.50px;letter-spacing:-0.214px">27</span> <span class="t" style="left:207.00px;top:676.50px;letter-spacing:-0.404px">Feb</span> <span class="t" style="left:225.00px;top:676.50px;letter-spacing:-0.084px">23:00</span></div>
<div class="l"><span class="t" style="left:258.00px;top:676.50px;letter-spacing:-0.221px">1</span> <span class="t" style="left:266.00px;top:676.50px;letter-spacing:-0.399px">Mar</span> <span class="t" style="left:284.00px;top:676.50px;letter-spacing:-0.084px">04:00</span></div>
<div class="l"><span class="t" style="left:322.00px;top:676.50px;letter-spacing:-0.221px">2</span> <span class="t" style="left:330.00px;top:676.50px;letter-spacing:-0.399px">Mar</span> <span class="t" style="left:348.00px;top:676.50px;letter-spacing:-0.084px">12:00</span></div>
<div class="l"><span class="t" style="left:386.00px;top:676.50px;letter-spacing:-0.221px">3</span> <span class="t" style="left:394.00px;top:676.50px;letter-spacing:-0.399px">Mar</span> <span class="t" style="left:412.00px;top:676.50px;letter-spacing:-0.084px">20:00</span></div>
<div class="l"><span class="t" style="left:450.00px;top:676.50px;letter-spacing:-0.221px">7</span> <span class="t" style="left:458.00px;top:676.50px;letter-spacing:-0.399px">Mar</span> <span class="t" style="left:476.00px;top:676.50px;letter-spacing:-0.084px">00:00</span></div>
<div class="l"><span class="t" style="left:514.00px;top:676.50px;letter-spacing:-0.221px">8</span> <span class="t" style="left:522.00px;top:676.50px;letter-spacing:-0.399px">Mar</span> <span class="t" style="left:540.00px;top:676.50px;letter-spacing:-0.084px">08:00</span></div>
<div class="l"><span class="t" style="left:578.00px;top:676.50px;letter-spacing:-0.221px">9</span> <span class="t" style="left:586.00px;top:676.50px;letter-spacing:-0.399px">Mar</span> <span class="t" style="left:604.00px;top:676.50px;letter-spacing:-0.084px">16:00</span></div>
<div class="l"><span class="t" style="left:642.00px;top:676.50px;letter-spacing:-0.214px">11</span> <span class="t" style="left:655.00px;top:676.50px;letter-spacing:-0.399px">Mar</span> <span class="t" style="left:673.00px;top:676.50px;letter-spacing:-0.084px">00:00</span></div>
<div class="l"><span class="t" style="left:706.00px;top:676.50px;letter-spacing:-0.214px">14</span> <span class="t" style="left:719.00px;top:676.50px;letter-spacing:-0.399px">Mar</span> <span class="t" style="left:737.00px;top:676.50px;letter-spacing:-0.084px">04:00</span></div>
<div class="l"><span class="t" style="left:770.00px;top:676.50px;letter-spacing:-0.214px">15</span> <span class="t" style="left:783.00px;top:676.50px;letter-spacing:-0.399px">Mar</span> <span class="t" style="left:801.00px;top:676.50px;letter-spacing:-0.084px">12:00</span></div>
<div class="l"><span class="t" style="left:834.00px;top:676.50px;letter-spacing:-0.214px">16</span> <span class="t" style="left:847.00px;top:676.50px;letter-spacing:-0.399px">Mar</span> <span class="t" style="left:865.00px;top:676.50px;letter-spacing:-0.084px">20:00</span></div>
<div class="l"><span class="t" style="left:898.00px;top:676.50px;letter-spacing:-0.214px">18</span> <span class="t" style="left:911.00px;top:676.50px;letter-spacing:-0.399px">Mar</span> <span class="t" style="left:929.00px;top:676.50px;letter-spacing:-0.084px">04:00</span></div>
<div class="l"><span class="t" style="left:962.00px;top:676.50px;letter-spacing:-0.214px">21</span> <span class="t" style="left:975.00px;top:676.50px;letter-spacing:-0.399px">Mar</span> <span class="t" style="left:993.00px;top:676.50px;letter-spacing:-0.084px">08:00</span></div>
<div class="l"><span class="t" style="left:1026.00px;top:676.50px;letter-spacing:-0.214px">22</span> <span class="t" style="left:1039.00px;top:676.50px;letter-spacing:-0.399px">Mar</span> <span class="t" style="left:1057.00px;top:676.50px;letter-spacing:-0.084px">16:00</span></div>
<div class="l"><span class="t" style="left:1090.00px;top:676.50px;letter-spacing:-0.214px">24</span> <span class="t" style="left:1103.00px;top:676.50px;letter-spacing:-0.399px">Mar</span> <span class="t" style="left:1121.00px;top:676.50px;letter-spacing:-0.084px">00:00</span></div>
<div class="l"><span class="t" style="left:1154.00px;top:676.50px;letter-spacing:-0.214px">25</span> <span class="t" style="left:1167.00px;top:676.50px;letter-spacing:-0.399px">Mar</span> <span class="t" style="left:1185.00px;top:676.50px;letter-spacing:-0.084px">08:00</span></div>
</div>
</body></html>
